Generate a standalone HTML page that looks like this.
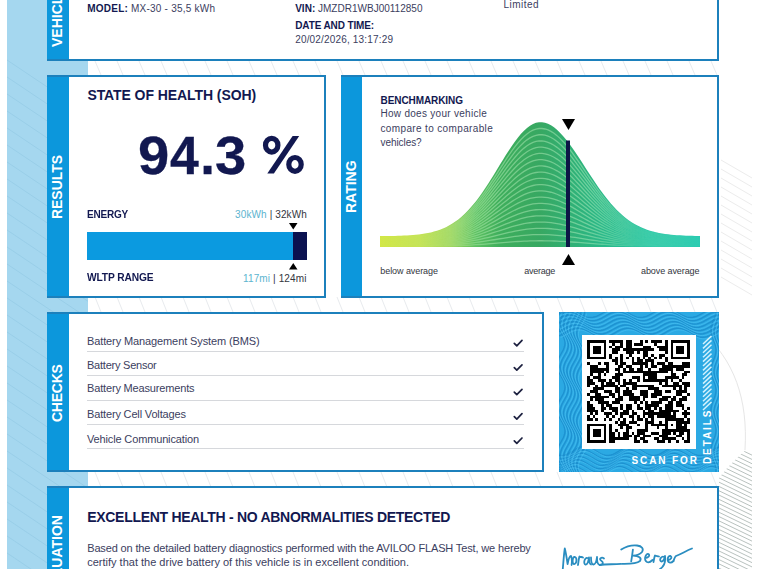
<!DOCTYPE html>
<html><head><meta charset="utf-8">
<style>
*{margin:0;padding:0;box-sizing:border-box}
html,body{width:759px;height:569px;overflow:hidden;background:#fff}
body{position:relative;font-family:"Liberation Sans",sans-serif;color:#121850}
.abs{position:absolute}
.stripe{position:absolute;left:7px;top:0;width:81px;height:569px;background:#a5d7ef}
.card{position:absolute;background:#fff;border:2px solid #1c80bc}
.bar{position:absolute;background:#0c97dc;border-top:2px solid #1c80bc;border-bottom:2px solid #1c80bc}
.vt{position:absolute;color:#fff;font-weight:bold;font-size:14px;white-space:nowrap;transform:rotate(-90deg);transform-origin:0 0;letter-spacing:0.3px;line-height:1}
.t{position:absolute;white-space:nowrap;line-height:1}
.g{position:absolute;top:128.6px;font-size:53px;font-weight:bold;line-height:1;color:#121850;transform-origin:0 0;-webkit-text-stroke:0.3px #121850}
.rule{position:absolute;left:87px;width:437px;height:1px;background:#d6d8dc}
</style></head><body>
<div class="stripe"></div>
<svg class="abs" style="left:0;top:0" width="759" height="569" stroke-width="1"><path d="M721,160 L752,178" stroke="#ececec"/><path d="M721,169 L752,187" stroke="#ececec"/><path d="M721,178 L752,196" stroke="#ececec"/><path d="M721,187 L752,205" stroke="#ececec"/><path d="M721,196 L752,214" stroke="#ececec"/><path d="M721,205 L752,223" stroke="#ececec"/><path d="M721,214 L752,232" stroke="#ececec"/><path d="M721,223 L752,241" stroke="#ececec"/><path d="M721,232 L752,250" stroke="#ececec"/><path d="M721,241 L752,259" stroke="#ececec"/><path d="M721,250 L752,268" stroke="#ececec"/><path d="M721,259 L752,277" stroke="#ececec"/><path d="M721,268 L752,286" stroke="#ececec"/><path d="M721,277 L752,295" stroke="#ececec"/><path id="gaplines" d="M95,61 L101,75 M117,61 L123,75 M139,61 L145,75 M161,61 L167,75 M183,61 L189,75 M205,61 L211,75 M227,61 L233,75 M249,61 L255,75 M271,61 L277,75 M293,61 L299,75 M315,61 L321,75 M337,61 L343,75 M359,61 L365,75 M381,61 L387,75 M403,61 L409,75 M425,61 L431,75 M447,61 L453,75 M469,61 L475,75 M491,61 L497,75 M513,61 L519,75 M535,61 L541,75 M557,61 L563,75 M579,61 L585,75 M601,61 L607,75 M623,61 L629,75 M645,61 L651,75 M667,61 L673,75 M689,61 L695,75 M711,61 L717,75 M95,297 L101,312 M117,297 L123,312 M139,297 L145,312 M161,297 L167,312 M183,297 L189,312 M205,297 L211,312 M227,297 L233,312 M249,297 L255,312 M271,297 L277,312 M293,297 L299,312 M315,297 L321,312 M337,297 L343,312 M359,297 L365,312 M381,297 L387,312 M403,297 L409,312 M425,297 L431,312 M447,297 L453,312 M469,297 L475,312 M491,297 L497,312 M513,297 L519,312 M535,297 L541,312 M557,297 L563,312 M579,297 L585,312 M601,297 L607,312 M623,297 L629,312 M645,297 L651,312 M667,297 L673,312 M689,297 L695,312 M711,297 L717,312 M95,472 L101,487 M117,472 L123,487 M139,472 L145,487 M161,472 L167,487 M183,472 L189,487 M205,472 L211,487 M227,472 L233,487 M249,472 L255,487 M271,472 L277,487 M293,472 L299,487 M315,472 L321,487 M337,472 L343,487 M359,472 L365,487 M381,472 L387,487 M403,472 L409,487 M425,472 L431,487 M447,472 L453,487 M469,472 L475,487 M491,472 L497,487 M513,472 L519,487 M535,472 L541,487 M557,472 L563,487 M579,472 L585,487 M601,472 L607,487 M623,472 L629,487 M645,472 L651,487 M667,472 L673,487 M689,472 L695,487 M711,472 L717,487" stroke="#e8ebee" stroke-width="1" fill="none"/><path d="M700,330 C735,360 748,400 745,450" stroke="#e6e6e6" fill="none"/><clipPath id="hc"><path d="M752,446 C742,452 728,466 719,478 L719,569 L752,569 Z"/></clipPath><path clip-path="url(#hc)" d="M700,430.0 L760,459.0 M700,434.3 L760,463.3 M700,438.6 L760,467.6 M700,442.9 L760,471.9 M700,447.2 L760,476.2 M700,451.5 L760,480.5 M700,455.8 L760,484.8 M700,460.1 L760,489.1 M700,464.4 L760,493.4 M700,468.7 L760,497.7 M700,473.0 L760,502.0 M700,477.3 L760,506.3 M700,481.6 L760,510.6 M700,485.9 L760,514.9 M700,490.2 L760,519.2 M700,494.5 L760,523.5 M700,498.8 L760,527.8 M700,503.1 L760,532.1 M700,507.4 L760,536.4 M700,511.7 L760,540.7 M700,516.0 L760,545.0 M700,520.3 L760,549.3 M700,524.6 L760,553.6 M700,528.9 L760,557.9 M700,533.2 L760,562.2 M700,537.5 L760,566.5 M700,541.8 L760,570.8 M700,546.1 L760,575.1 M700,550.4 L760,579.4 M700,554.7 L760,583.7 M700,559.0 L760,588.0 M700,563.3 L760,592.3 M700,567.6 L760,596.6 M700,571.9 L760,600.9 M700,576.2 L760,605.2 M700,580.5 L760,609.5 M700,584.8 L760,613.8 M700,589.1 L760,618.1 M700,593.4 L760,622.4 M700,597.7 L760,626.7" stroke="#b9c2bf" stroke-width="1" fill="none"/><path d="M7,60 L88,114.3 M7,77 L88,131.3 M7,94 L88,148.3 M7,111 L88,165.3 M7,128 L88,182.3 M7,145 L88,199.3 M7,162 L88,216.3 M7,179 L88,233.3 M7,196 L88,250.3 M7,213 L88,267.3 M7,230 L88,284.3 M7,247 L88,301.3 M7,264 L88,318.3 M7,281 L88,335.3 M7,298 L88,352.3 M7,315 L88,369.3 M7,332 L88,386.3 M7,349 L88,403.3 M7,366 L88,420.3 M7,383 L88,437.3 M7,400 L88,454.3 M7,417 L88,471.3 M7,434 L88,488.3 M7,451 L88,505.3 M7,468 L88,522.3 M7,485 L88,539.3 M7,502 L88,556.3 M7,519 L88,573.3 M7,536 L88,590.3 M7,553 L88,607.3" stroke="#95cce6" stroke-width="0.8" fill="none"/></svg>


<!-- vehicle card -->
<div class="card" style="left:47px;top:-20px;width:672px;height:81px"></div>
<div class="bar" style="left:47px;top:-20px;width:22px;height:81px"></div>
<div class="vt" style="left:49.5px;top:47px;letter-spacing:0px">VEHICLE DATA</div>

<!-- results card -->
<div class="card" style="left:47px;top:75px;width:279px;height:223px"></div>
<div class="bar" style="left:47px;top:75px;width:22px;height:223px"></div>
<div class="vt" style="left:49.7px;top:218.5px;letter-spacing:-0.05px">RESULTS</div>
<div class="abs" style="left:87px;top:232px;width:206px;height:28px;background:#0b9ae0"></div>
<div class="abs" style="left:293px;top:232px;width:14px;height:28px;background:#0b1250"></div>
<svg class="abs" style="left:0;top:0" width="759" height="569">
<path d="M289,223 L297.5,223 L293.25,229.5 Z" fill="#000"/>
<path d="M289,269.5 L297.5,269.5 L293.25,263 Z" fill="#000"/>
</svg>

<div class="g" style="left:138.1px;transform:scaleX(1.06)">9</div>
<div class="g" style="left:170.4px;transform:scaleX(0.977)">4</div>
<div class="g" style="left:200.3px">.</div>
<div class="g" style="left:214.6px;transform:scaleX(1.06)">3</div>
<svg class="abs" style="left:0;top:0" width="759" height="569">
<g fill="none" stroke="#121850" stroke-width="5.2">
<ellipse cx="271.7" cy="145.2" rx="6.2" ry="6.9"/>
<ellipse cx="295" cy="164.4" rx="6.2" ry="6.9"/>
</g>
<path d="M292.6,135.9 L299.2,135.9 L273.9,173.6 L267.3,173.6 Z" fill="#121850"/>
</svg>

<!-- rating card -->
<div class="card" style="left:341px;top:75px;width:378px;height:223px"></div>
<div class="bar" style="left:341px;top:75px;width:21px;height:223px"></div>
<div class="vt" style="left:343.8px;top:212.9px;letter-spacing:0px">RATING</div>
<svg class="abs" style="left:0;top:0" width="759" height="569">
<defs>
<linearGradient id="bg" x1="380" y1="0" x2="700" y2="0" gradientUnits="userSpaceOnUse">
<stop offset="0" stop-color="#d3e63c"/>
<stop offset="0.125" stop-color="#c4e042"/>
<stop offset="0.22" stop-color="#9ed455"/>
<stop offset="0.30" stop-color="#5cc060"/>
<stop offset="0.375" stop-color="#3eae5c"/>
<stop offset="0.5" stop-color="#37a862"/>
<stop offset="0.69" stop-color="#2ab888"/>
<stop offset="0.84" stop-color="#20c4a4"/>
<stop offset="1" stop-color="#1ec8b0"/>
</linearGradient>
<linearGradient id="lm" x1="380" y1="0" x2="700" y2="0" gradientUnits="userSpaceOnUse">
<stop offset="0" stop-color="#fff" stop-opacity="0.12"/>
<stop offset="0.2" stop-color="#fff" stop-opacity="0.35"/>
<stop offset="0.35" stop-color="#fff" stop-opacity="1"/>
<stop offset="0.65" stop-color="#fff" stop-opacity="1"/>
<stop offset="0.8" stop-color="#fff" stop-opacity="0.35"/>
<stop offset="1" stop-color="#fff" stop-opacity="0.12"/>
</linearGradient>
<mask id="mk" maskUnits="userSpaceOnUse" x="370" y="100" width="340" height="160"><rect x="370" y="100" width="340" height="160" fill="url(#lm)"/></mask>
<path id="bc" d="M380,236.12 L383,236.10 L386,236.07 L389,236.03 L392,235.98 L395,235.92 L398,235.84 L401,235.74 L404,235.62 L407,235.47 L410,235.29 L413,235.06 L416,234.79 L419,234.46 L422,234.07 L425,233.60 L428,233.05 L431,232.39 L434,231.62 L437,230.73 L440,229.69 L443,228.50 L446,227.13 L449,225.58 L452,223.82 L455,221.84 L458,219.64 L461,217.19 L464,214.50 L467,211.55 L470,208.33 L473,204.86 L476,201.14 L479,197.18 L482,192.99 L485,188.59 L488,184.01 L491,179.28 L494,174.44 L497,169.52 L500,164.59 L503,159.68 L506,154.84 L509,150.15 L512,145.64 L515,141.39 L518,137.44 L521,133.85 L524,130.67 L527,127.94 L530,125.71 L533,124.00 L536,122.85 L539,122.27 L542,122.26 L545,122.78 L548,123.81 L551,125.33 L554,127.33 L557,129.77 L560,132.64 L563,135.88 L566,139.46 L569,143.34 L572,147.46 L575,151.79 L578,156.27 L581,160.86 L584,165.50 L587,170.16 L590,174.79 L593,179.36 L596,183.82 L599,188.16 L602,192.33 L605,196.32 L608,200.12 L611,203.70 L614,207.06 L617,210.19 L620,213.09 L623,215.76 L626,218.20 L629,220.42 L632,222.43 L635,224.24 L638,225.86 L641,227.30 L644,228.58 L647,229.70 L650,230.68 L653,231.53 L656,232.27 L659,232.91 L662,233.46 L665,233.92 L668,234.32 L671,234.65 L674,234.93 L677,235.17 L680,235.36 L683,235.52 L686,235.66 L689,235.76 L692,235.85 L695,235.92 L698,235.98 L700,236.01" fill="none" stroke="#c8f8c8" stroke-opacity="0.42" stroke-width="1.3" vector-effect="non-scaling-stroke"/>
</defs>
<path d="M380,247 L380,236.12 L383,236.10 L386,236.07 L389,236.03 L392,235.98 L395,235.92 L398,235.84 L401,235.74 L404,235.62 L407,235.47 L410,235.29 L413,235.06 L416,234.79 L419,234.46 L422,234.07 L425,233.60 L428,233.05 L431,232.39 L434,231.62 L437,230.73 L440,229.69 L443,228.50 L446,227.13 L449,225.58 L452,223.82 L455,221.84 L458,219.64 L461,217.19 L464,214.50 L467,211.55 L470,208.33 L473,204.86 L476,201.14 L479,197.18 L482,192.99 L485,188.59 L488,184.01 L491,179.28 L494,174.44 L497,169.52 L500,164.59 L503,159.68 L506,154.84 L509,150.15 L512,145.64 L515,141.39 L518,137.44 L521,133.85 L524,130.67 L527,127.94 L530,125.71 L533,124.00 L536,122.85 L539,122.27 L542,122.26 L545,122.78 L548,123.81 L551,125.33 L554,127.33 L557,129.77 L560,132.64 L563,135.88 L566,139.46 L569,143.34 L572,147.46 L575,151.79 L578,156.27 L581,160.86 L584,165.50 L587,170.16 L590,174.79 L593,179.36 L596,183.82 L599,188.16 L602,192.33 L605,196.32 L608,200.12 L611,203.70 L614,207.06 L617,210.19 L620,213.09 L623,215.76 L626,218.20 L629,220.42 L632,222.43 L635,224.24 L638,225.86 L641,227.30 L644,228.58 L647,229.70 L650,230.68 L653,231.53 L656,232.27 L659,232.91 L662,233.46 L665,233.92 L668,234.32 L671,234.65 L674,234.93 L677,235.17 L680,235.36 L683,235.52 L686,235.66 L689,235.76 L692,235.85 L695,235.92 L698,235.98 L700,236.01 L700,247 Z" fill="url(#bg)"/>
<g mask="url(#mk)"><use href="#bc" transform="translate(0,247) scale(1,0.0500) translate(0,-247)"/><use href="#bc" transform="translate(0,247) scale(1,0.1000) translate(0,-247)"/><use href="#bc" transform="translate(0,247) scale(1,0.1500) translate(0,-247)"/><use href="#bc" transform="translate(0,247) scale(1,0.2000) translate(0,-247)"/><use href="#bc" transform="translate(0,247) scale(1,0.2500) translate(0,-247)"/><use href="#bc" transform="translate(0,247) scale(1,0.3000) translate(0,-247)"/><use href="#bc" transform="translate(0,247) scale(1,0.3500) translate(0,-247)"/><use href="#bc" transform="translate(0,247) scale(1,0.4000) translate(0,-247)"/><use href="#bc" transform="translate(0,247) scale(1,0.4500) translate(0,-247)"/><use href="#bc" transform="translate(0,247) scale(1,0.5000) translate(0,-247)"/><use href="#bc" transform="translate(0,247) scale(1,0.5500) translate(0,-247)"/><use href="#bc" transform="translate(0,247) scale(1,0.6000) translate(0,-247)"/><use href="#bc" transform="translate(0,247) scale(1,0.6500) translate(0,-247)"/><use href="#bc" transform="translate(0,247) scale(1,0.7000) translate(0,-247)"/><use href="#bc" transform="translate(0,247) scale(1,0.7500) translate(0,-247)"/><use href="#bc" transform="translate(0,247) scale(1,0.8000) translate(0,-247)"/><use href="#bc" transform="translate(0,247) scale(1,0.8500) translate(0,-247)"/><use href="#bc" transform="translate(0,247) scale(1,0.9000) translate(0,-247)"/><use href="#bc" transform="translate(0,247) scale(1,0.9500) translate(0,-247)"/></g>
<rect x="566" y="140.5" width="4" height="106.5" fill="#0d1646"/>
<path d="M562,119 L575,119 L568.5,130 Z" fill="#000"/>
<path d="M562,265 L575,265 L568.5,254 Z" fill="#000"/>
</svg>

<!-- checks card -->
<div class="card" style="left:47px;top:312px;width:497px;height:160px"></div>
<div class="bar" style="left:47px;top:312px;width:22px;height:160px"></div>
<div class="vt" style="left:49.7px;top:421.9px;letter-spacing:-0.25px">CHECKS</div>
<div class="rule" style="top:351px"></div>
<div class="rule" style="top:375px"></div>
<div class="rule" style="top:400px"></div>
<div class="rule" style="top:424px"></div>
<div class="rule" style="top:448px"></div>
<svg class="abs" style="left:0;top:0" width="759" height="569">
<g fill="none" stroke="#1d2140" stroke-width="1.7" stroke-linecap="round" stroke-linejoin="round"><path d="M514.3,343.3 L516.8,345.8 L522,340.4"/><path d="M514.3,367.7 L516.8,370.2 L522,364.8"/><path d="M514.3,392.2 L516.8,394.7 L522,389.3"/><path d="M514.3,416.6 L516.8,419.1 L522,413.7"/><path d="M514.3,440.9 L516.8,443.4 L522,438.0"/></g>
</svg>

<!-- QR panel -->
<svg class="abs" style="left:0;top:0" width="759" height="569">
<defs><clipPath id="pc"><rect x="559" y="312" width="160" height="160"/></clipPath></defs>
<rect x="559" y="312" width="160" height="160" fill="#2ba9e3"/>
<g clip-path="url(#pc)" fill="none" stroke="#1a8ccc" stroke-width="1.4" stroke-opacity="0.8"><path d="M559,309.9 L561,309.2 L563,308.7 L565,308.5 L567,308.6 L569,308.9 L571,309.5 L573,310.4 L575,311.3 L577,312.4 L579,313.6 L581,314.7 L583,315.6 L585,316.5 L587,317.1 L589,317.4 L591,317.5 L593,317.3 L595,316.8 L597,316.1 L599,315.2 L601,314.1 L603,313.0 L605,311.9 L607,310.8 L609,309.9 L611,309.2 L613,308.7 L615,308.5 L617,308.6 L619,308.9 L621,309.5 L623,310.4 L625,311.3 L627,312.4 L629,313.6 L631,314.7 L633,315.6 L635,316.5 L637,317.1 L639,317.4 L641,317.5 L643,317.3 L645,316.8 L647,316.1 L649,315.2 L651,314.1 L653,313.0 L655,311.9 L657,310.8 L659,309.9 L661,309.2 L663,308.7 L665,308.5 L667,308.6 L669,308.9 L671,309.5 L673,310.4 L675,311.3 L677,312.4 L679,313.6 L681,314.7 L683,315.6 L685,316.5 L687,317.1 L689,317.4 L691,317.5 L693,317.3 L695,316.8 L697,316.1 L699,315.2 L701,314.1 L703,313.0 L705,311.9 L707,310.8 L709,309.9 L711,309.2 L713,308.7 L715,308.5 L717,308.6 L719,308.9"/><path d="M559,314.1 L561,313.2 L563,312.5 L565,312.0 L567,311.8 L569,311.9 L571,312.2 L573,312.8 L575,313.7 L577,314.6 L579,315.7 L581,316.9 L583,318.0 L585,318.9 L587,319.8 L589,320.4 L591,320.7 L593,320.8 L595,320.6 L597,320.1 L599,319.4 L601,318.5 L603,317.4 L605,316.3 L607,315.2 L609,314.1 L611,313.2 L613,312.5 L615,312.0 L617,311.8 L619,311.9 L621,312.2 L623,312.8 L625,313.7 L627,314.6 L629,315.7 L631,316.9 L633,318.0 L635,318.9 L637,319.8 L639,320.4 L641,320.7 L643,320.8 L645,320.6 L647,320.1 L649,319.4 L651,318.5 L653,317.4 L655,316.3 L657,315.2 L659,314.1 L661,313.2 L663,312.5 L665,312.0 L667,311.8 L669,311.9 L671,312.2 L673,312.8 L675,313.7 L677,314.6 L679,315.7 L681,316.9 L683,318.0 L685,318.9 L687,319.8 L689,320.4 L691,320.7 L693,320.8 L695,320.6 L697,320.1 L699,319.4 L701,318.5 L703,317.4 L705,316.3 L707,315.2 L709,314.1 L711,313.2 L713,312.5 L715,312.0 L717,311.8 L719,311.9"/><path d="M559,318.5 L561,317.4 L563,316.5 L565,315.8 L567,315.3 L569,315.1 L571,315.2 L573,315.5 L575,316.1 L577,317.0 L579,317.9 L581,319.0 L583,320.2 L585,321.3 L587,322.2 L589,323.1 L591,323.7 L593,324.0 L595,324.1 L597,323.9 L599,323.4 L601,322.7 L603,321.8 L605,320.7 L607,319.6 L609,318.5 L611,317.4 L613,316.5 L615,315.8 L617,315.3 L619,315.1 L621,315.2 L623,315.5 L625,316.1 L627,317.0 L629,317.9 L631,319.0 L633,320.2 L635,321.3 L637,322.2 L639,323.1 L641,323.7 L643,324.0 L645,324.1 L647,323.9 L649,323.4 L651,322.7 L653,321.8 L655,320.7 L657,319.6 L659,318.5 L661,317.4 L663,316.5 L665,315.8 L667,315.3 L669,315.1 L671,315.2 L673,315.5 L675,316.1 L677,317.0 L679,317.9 L681,319.0 L683,320.2 L685,321.3 L687,322.2 L689,323.1 L691,323.7 L693,324.0 L695,324.1 L697,323.9 L699,323.4 L701,322.7 L703,321.8 L705,320.7 L707,319.6 L709,318.5 L711,317.4 L713,316.5 L715,315.8 L717,315.3 L719,315.1"/><path d="M559,322.9 L561,321.8 L563,320.7 L565,319.8 L567,319.1 L569,318.6 L571,318.4 L573,318.5 L575,318.8 L577,319.4 L579,320.3 L581,321.2 L583,322.3 L585,323.5 L587,324.6 L589,325.5 L591,326.4 L593,327.0 L595,327.3 L597,327.4 L599,327.2 L601,326.7 L603,326.0 L605,325.1 L607,324.0 L609,322.9 L611,321.8 L613,320.7 L615,319.8 L617,319.1 L619,318.6 L621,318.4 L623,318.5 L625,318.8 L627,319.4 L629,320.3 L631,321.2 L633,322.3 L635,323.5 L637,324.6 L639,325.5 L641,326.4 L643,327.0 L645,327.3 L647,327.4 L649,327.2 L651,326.7 L653,326.0 L655,325.1 L657,324.0 L659,322.9 L661,321.8 L663,320.7 L665,319.8 L667,319.1 L669,318.6 L671,318.4 L673,318.5 L675,318.8 L677,319.4 L679,320.3 L681,321.2 L683,322.3 L685,323.5 L687,324.6 L689,325.5 L691,326.4 L693,327.0 L695,327.3 L697,327.4 L699,327.2 L701,326.7 L703,326.0 L705,325.1 L707,324.0 L709,322.9 L711,321.8 L713,320.7 L715,319.8 L717,319.1 L719,318.6"/><path d="M559,327.3 L561,326.2 L563,325.1 L565,324.0 L567,323.1 L569,322.4 L571,321.9 L573,321.7 L575,321.8 L577,322.1 L579,322.7 L581,323.6 L583,324.5 L585,325.6 L587,326.8 L589,327.9 L591,328.8 L593,329.7 L595,330.3 L597,330.6 L599,330.7 L601,330.5 L603,330.0 L605,329.3 L607,328.4 L609,327.3 L611,326.2 L613,325.1 L615,324.0 L617,323.1 L619,322.4 L621,321.9 L623,321.7 L625,321.8 L627,322.1 L629,322.7 L631,323.6 L633,324.5 L635,325.6 L637,326.8 L639,327.9 L641,328.8 L643,329.7 L645,330.3 L647,330.6 L649,330.7 L651,330.5 L653,330.0 L655,329.3 L657,328.4 L659,327.3 L661,326.2 L663,325.1 L665,324.0 L667,323.1 L669,322.4 L671,321.9 L673,321.7 L675,321.8 L677,322.1 L679,322.7 L681,323.6 L683,324.5 L685,325.6 L687,326.8 L689,327.9 L691,328.8 L693,329.7 L695,330.3 L697,330.6 L699,330.7 L701,330.5 L703,330.0 L705,329.3 L707,328.4 L709,327.3 L711,326.2 L713,325.1 L715,324.0 L717,323.1 L719,322.4"/><path d="M559,331.7 L561,330.6 L563,329.5 L565,328.4 L567,327.3 L569,326.4 L571,325.7 L573,325.2 L575,325.0 L577,325.1 L579,325.4 L581,326.0 L583,326.9 L585,327.8 L587,328.9 L589,330.1 L591,331.2 L593,332.1 L595,333.0 L597,333.6 L599,333.9 L601,334.0 L603,333.8 L605,333.3 L607,332.6 L609,331.7 L611,330.6 L613,329.5 L615,328.4 L617,327.3 L619,326.4 L621,325.7 L623,325.2 L625,325.0 L627,325.1 L629,325.4 L631,326.0 L633,326.9 L635,327.8 L637,328.9 L639,330.1 L641,331.2 L643,332.1 L645,333.0 L647,333.6 L649,333.9 L651,334.0 L653,333.8 L655,333.3 L657,332.6 L659,331.7 L661,330.6 L663,329.5 L665,328.4 L667,327.3 L669,326.4 L671,325.7 L673,325.2 L675,325.0 L677,325.1 L679,325.4 L681,326.0 L683,326.9 L685,327.8 L687,328.9 L689,330.1 L691,331.2 L693,332.1 L695,333.0 L697,333.6 L699,333.9 L701,334.0 L703,333.8 L705,333.3 L707,332.6 L709,331.7 L711,330.6 L713,329.5 L715,328.4 L717,327.3 L719,326.4"/><path d="M559,335.9 L561,335.0 L563,333.9 L565,332.8 L567,331.7 L569,330.6 L571,329.7 L573,329.0 L575,328.5 L577,328.3 L579,328.4 L581,328.7 L583,329.3 L585,330.2 L587,331.1 L589,332.2 L591,333.4 L593,334.5 L595,335.4 L597,336.3 L599,336.9 L601,337.2 L603,337.3 L605,337.1 L607,336.6 L609,335.9 L611,335.0 L613,333.9 L615,332.8 L617,331.7 L619,330.6 L621,329.7 L623,329.0 L625,328.5 L627,328.3 L629,328.4 L631,328.7 L633,329.3 L635,330.2 L637,331.1 L639,332.2 L641,333.4 L643,334.5 L645,335.4 L647,336.3 L649,336.9 L651,337.2 L653,337.3 L655,337.1 L657,336.6 L659,335.9 L661,335.0 L663,333.9 L665,332.8 L667,331.7 L669,330.6 L671,329.7 L673,329.0 L675,328.5 L677,328.3 L679,328.4 L681,328.7 L683,329.3 L685,330.2 L687,331.1 L689,332.2 L691,333.4 L693,334.5 L695,335.4 L697,336.3 L699,336.9 L701,337.2 L703,337.3 L705,337.1 L707,336.6 L709,335.9 L711,335.0 L713,333.9 L715,332.8 L717,331.7 L719,330.6"/><path d="M559,455.2 L561,455.5 L563,455.4 L565,455.0 L567,454.3 L569,453.3 L571,452.2 L573,451.0 L575,449.8 L577,448.7 L579,447.7 L581,447.0 L583,446.6 L585,446.5 L587,446.8 L589,447.3 L591,448.2 L593,449.2 L595,450.4 L597,451.6 L599,452.8 L601,453.8 L603,454.7 L605,455.2 L607,455.5 L609,455.4 L611,455.0 L613,454.3 L615,453.3 L617,452.2 L619,451.0 L621,449.8 L623,448.7 L625,447.7 L627,447.0 L629,446.6 L631,446.5 L633,446.8 L635,447.3 L637,448.2 L639,449.2 L641,450.4 L643,451.6 L645,452.8 L647,453.8 L649,454.7 L651,455.2 L653,455.5 L655,455.4 L657,455.0 L659,454.3 L661,453.3 L663,452.2 L665,451.0 L667,449.8 L669,448.7 L671,447.7 L673,447.0 L675,446.6 L677,446.5 L679,446.8 L681,447.3 L683,448.2 L685,449.2 L687,450.4 L689,451.6 L691,452.8 L693,453.8 L695,454.7 L697,455.2 L699,455.5 L701,455.4 L703,455.0 L705,454.3 L707,453.3 L709,452.2 L711,451.0 L713,449.8 L715,448.7 L717,447.7 L719,447.0"/><path d="M559,458.8 L561,458.7 L563,458.3 L565,457.6 L567,456.6 L569,455.5 L571,454.3 L573,453.1 L575,452.0 L577,451.0 L579,450.3 L581,449.9 L583,449.8 L585,450.1 L587,450.6 L589,451.5 L591,452.5 L593,453.7 L595,454.9 L597,456.1 L599,457.1 L601,458.0 L603,458.5 L605,458.8 L607,458.7 L609,458.3 L611,457.6 L613,456.6 L615,455.5 L617,454.3 L619,453.1 L621,452.0 L623,451.0 L625,450.3 L627,449.9 L629,449.8 L631,450.1 L633,450.6 L635,451.5 L637,452.5 L639,453.7 L641,454.9 L643,456.1 L645,457.1 L647,458.0 L649,458.5 L651,458.8 L653,458.7 L655,458.3 L657,457.6 L659,456.6 L661,455.5 L663,454.3 L665,453.1 L667,452.0 L669,451.0 L671,450.3 L673,449.9 L675,449.8 L677,450.1 L679,450.6 L681,451.5 L683,452.5 L685,453.7 L687,454.9 L689,456.1 L691,457.1 L693,458.0 L695,458.5 L697,458.8 L699,458.7 L701,458.3 L703,457.6 L705,456.6 L707,455.5 L709,454.3 L711,453.1 L713,452.0 L715,451.0 L717,450.3 L719,449.9"/><path d="M559,462.0 L561,461.6 L563,460.9 L565,459.9 L567,458.8 L569,457.6 L571,456.4 L573,455.3 L575,454.3 L577,453.6 L579,453.2 L581,453.1 L583,453.4 L585,453.9 L587,454.8 L589,455.8 L591,457.0 L593,458.2 L595,459.4 L597,460.4 L599,461.3 L601,461.8 L603,462.1 L605,462.0 L607,461.6 L609,460.9 L611,459.9 L613,458.8 L615,457.6 L617,456.4 L619,455.3 L621,454.3 L623,453.6 L625,453.2 L627,453.1 L629,453.4 L631,453.9 L633,454.8 L635,455.8 L637,457.0 L639,458.2 L641,459.4 L643,460.4 L645,461.3 L647,461.8 L649,462.1 L651,462.0 L653,461.6 L655,460.9 L657,459.9 L659,458.8 L661,457.6 L663,456.4 L665,455.3 L667,454.3 L669,453.6 L671,453.2 L673,453.1 L675,453.4 L677,453.9 L679,454.8 L681,455.8 L683,457.0 L685,458.2 L687,459.4 L689,460.4 L691,461.3 L693,461.8 L695,462.1 L697,462.0 L699,461.6 L701,460.9 L703,459.9 L705,458.8 L707,457.6 L709,456.4 L711,455.3 L713,454.3 L715,453.6 L717,453.2 L719,453.1"/><path d="M559,464.9 L561,464.2 L563,463.2 L565,462.1 L567,460.9 L569,459.7 L571,458.6 L573,457.6 L575,456.9 L577,456.5 L579,456.4 L581,456.7 L583,457.2 L585,458.1 L587,459.1 L589,460.3 L591,461.5 L593,462.7 L595,463.7 L597,464.6 L599,465.1 L601,465.4 L603,465.3 L605,464.9 L607,464.2 L609,463.2 L611,462.1 L613,460.9 L615,459.7 L617,458.6 L619,457.6 L621,456.9 L623,456.5 L625,456.4 L627,456.7 L629,457.2 L631,458.1 L633,459.1 L635,460.3 L637,461.5 L639,462.7 L641,463.7 L643,464.6 L645,465.1 L647,465.4 L649,465.3 L651,464.9 L653,464.2 L655,463.2 L657,462.1 L659,460.9 L661,459.7 L663,458.6 L665,457.6 L667,456.9 L669,456.5 L671,456.4 L673,456.7 L675,457.2 L677,458.1 L679,459.1 L681,460.3 L683,461.5 L685,462.7 L687,463.7 L689,464.6 L691,465.1 L693,465.4 L695,465.3 L697,464.9 L699,464.2 L701,463.2 L703,462.1 L705,460.9 L707,459.7 L709,458.6 L711,457.6 L713,456.9 L715,456.5 L717,456.4 L719,456.7"/><path d="M559,467.5 L561,466.5 L563,465.4 L565,464.2 L567,463.0 L569,461.9 L571,460.9 L573,460.2 L575,459.8 L577,459.7 L579,460.0 L581,460.5 L583,461.4 L585,462.4 L587,463.6 L589,464.8 L591,466.0 L593,467.0 L595,467.9 L597,468.4 L599,468.7 L601,468.6 L603,468.2 L605,467.5 L607,466.5 L609,465.4 L611,464.2 L613,463.0 L615,461.9 L617,460.9 L619,460.2 L621,459.8 L623,459.7 L625,460.0 L627,460.5 L629,461.4 L631,462.4 L633,463.6 L635,464.8 L637,466.0 L639,467.0 L641,467.9 L643,468.4 L645,468.7 L647,468.6 L649,468.2 L651,467.5 L653,466.5 L655,465.4 L657,464.2 L659,463.0 L661,461.9 L663,460.9 L665,460.2 L667,459.8 L669,459.7 L671,460.0 L673,460.5 L675,461.4 L677,462.4 L679,463.6 L681,464.8 L683,466.0 L685,467.0 L687,467.9 L689,468.4 L691,468.7 L693,468.6 L695,468.2 L697,467.5 L699,466.5 L701,465.4 L703,464.2 L705,463.0 L707,461.9 L709,460.9 L711,460.2 L713,459.8 L715,459.7 L717,460.0 L719,460.5"/><path d="M559,469.8 L561,468.7 L563,467.5 L565,466.3 L567,465.2 L569,464.2 L571,463.5 L573,463.1 L575,463.0 L577,463.3 L579,463.8 L581,464.7 L583,465.7 L585,466.9 L587,468.1 L589,469.3 L591,470.3 L593,471.2 L595,471.7 L597,472.0 L599,471.9 L601,471.5 L603,470.8 L605,469.8 L607,468.7 L609,467.5 L611,466.3 L613,465.2 L615,464.2 L617,463.5 L619,463.1 L621,463.0 L623,463.3 L625,463.8 L627,464.7 L629,465.7 L631,466.9 L633,468.1 L635,469.3 L637,470.3 L639,471.2 L641,471.7 L643,472.0 L645,471.9 L647,471.5 L649,470.8 L651,469.8 L653,468.7 L655,467.5 L657,466.3 L659,465.2 L661,464.2 L663,463.5 L665,463.1 L667,463.0 L669,463.3 L671,463.8 L673,464.7 L675,465.7 L677,466.9 L679,468.1 L681,469.3 L683,470.3 L685,471.2 L687,471.7 L689,472.0 L691,471.9 L693,471.5 L695,470.8 L697,469.8 L699,468.7 L701,467.5 L703,466.3 L705,465.2 L707,464.2 L709,463.5 L711,463.1 L713,463.0 L715,463.3 L717,463.8 L719,464.7"/><path d="M559,472.0 L561,470.8 L563,469.6 L565,468.5 L567,467.5 L569,466.8 L571,466.4 L573,466.3 L575,466.6 L577,467.1 L579,468.0 L581,469.0 L583,470.2 L585,471.4 L587,472.6 L589,473.6 L591,474.5 L593,475.0 L595,475.3 L597,475.2 L599,474.8 L601,474.1 L603,473.1 L605,472.0 L607,470.8 L609,469.6 L611,468.5 L613,467.5 L615,466.8 L617,466.4 L619,466.3 L621,466.6 L623,467.1 L625,468.0 L627,469.0 L629,470.2 L631,471.4 L633,472.6 L635,473.6 L637,474.5 L639,475.0 L641,475.3 L643,475.2 L645,474.8 L647,474.1 L649,473.1 L651,472.0 L653,470.8 L655,469.6 L657,468.5 L659,467.5 L661,466.8 L663,466.4 L665,466.3 L667,466.6 L669,467.1 L671,468.0 L673,469.0 L675,470.2 L677,471.4 L679,472.6 L681,473.6 L683,474.5 L685,475.0 L687,475.3 L689,475.2 L691,474.8 L693,474.1 L695,473.1 L697,472.0 L699,470.8 L701,469.6 L703,468.5 L705,467.5 L707,466.8 L709,466.4 L711,466.3 L713,466.6 L715,467.1 L717,468.0 L719,469.0"/><path d="M559.9,312 L558.8,314 L558.0,316 L557.4,318 L557.0,320 L557.0,322 L557.4,324 L558.0,326 L558.8,328 L559.9,330 L561.0,332 L562.1,334 L563.2,336 L564.0,338 L564.6,340 L565.0,342 L565.0,344 L564.6,346 L564.0,348 L563.2,350 L562.1,352 L561.0,354 L559.9,356 L558.8,358 L558.0,360 L557.4,362 L557.0,364 L557.0,366 L557.4,368 L558.0,370 L558.8,372 L559.9,374 L561.0,376 L562.1,378 L563.2,380 L564.0,382 L564.6,384 L565.0,386 L565.0,388 L564.6,390 L564.0,392 L563.2,394 L562.1,396 L561.0,398 L559.9,400 L558.8,402 L558.0,404 L557.4,406 L557.0,408 L557.0,410 L557.4,412 L558.0,414 L558.8,416 L559.9,418 L561.0,420 L562.1,422 L563.2,424 L564.0,426 L564.6,428 L565.0,430 L565.0,432 L564.6,434 L564.0,436 L563.2,438 L562.1,440 L561.0,442 L559.9,444 L558.8,446 L558.0,448 L557.4,450 L557.0,452 L557.0,454 L557.4,456 L558.0,458 L558.8,460 L559.9,462 L561.0,464 L562.1,466 L563.2,468 L564.0,470 L564.6,472"/><path d="M564.3,312 L563.2,314 L562.1,316 L561.3,318 L560.7,320 L560.3,322 L560.3,324 L560.7,326 L561.3,328 L562.1,330 L563.2,332 L564.3,334 L565.4,336 L566.5,338 L567.3,340 L567.9,342 L568.3,344 L568.3,346 L567.9,348 L567.3,350 L566.5,352 L565.4,354 L564.3,356 L563.2,358 L562.1,360 L561.3,362 L560.7,364 L560.3,366 L560.3,368 L560.7,370 L561.3,372 L562.1,374 L563.2,376 L564.3,378 L565.4,380 L566.5,382 L567.3,384 L567.9,386 L568.3,388 L568.3,390 L567.9,392 L567.3,394 L566.5,396 L565.4,398 L564.3,400 L563.2,402 L562.1,404 L561.3,406 L560.7,408 L560.3,410 L560.3,412 L560.7,414 L561.3,416 L562.1,418 L563.2,420 L564.3,422 L565.4,424 L566.5,426 L567.3,428 L567.9,430 L568.3,432 L568.3,434 L567.9,436 L567.3,438 L566.5,440 L565.4,442 L564.3,444 L563.2,446 L562.1,448 L561.3,450 L560.7,452 L560.3,454 L560.3,456 L560.7,458 L561.3,460 L562.1,462 L563.2,464 L564.3,466 L565.4,468 L566.5,470 L567.3,472"/><path d="M568.7,312 L567.6,314 L566.5,316 L565.4,318 L564.6,320 L564.0,322 L563.6,324 L563.6,326 L564.0,328 L564.6,330 L565.4,332 L566.5,334 L567.6,336 L568.7,338 L569.8,340 L570.6,342 L571.2,344 L571.6,346 L571.6,348 L571.2,350 L570.6,352 L569.8,354 L568.7,356 L567.6,358 L566.5,360 L565.4,362 L564.6,364 L564.0,366 L563.6,368 L563.6,370 L564.0,372 L564.6,374 L565.4,376 L566.5,378 L567.6,380 L568.7,382 L569.8,384 L570.6,386 L571.2,388 L571.6,390 L571.6,392 L571.2,394 L570.6,396 L569.8,398 L568.7,400 L567.6,402 L566.5,404 L565.4,406 L564.6,408 L564.0,410 L563.6,412 L563.6,414 L564.0,416 L564.6,418 L565.4,420 L566.5,422 L567.6,424 L568.7,426 L569.8,428 L570.6,430 L571.2,432 L571.6,434 L571.6,436 L571.2,438 L570.6,440 L569.8,442 L568.7,444 L567.6,446 L566.5,448 L565.4,450 L564.6,452 L564.0,454 L563.6,456 L563.6,458 L564.0,460 L564.6,462 L565.4,464 L566.5,466 L567.6,468 L568.7,470 L569.8,472"/><path d="M573.1,312 L572.0,314 L570.9,316 L569.8,318 L568.7,320 L567.9,322 L567.3,324 L566.9,326 L566.9,328 L567.3,330 L567.9,332 L568.7,334 L569.8,336 L570.9,338 L572.0,340 L573.1,342 L573.9,344 L574.5,346 L574.9,348 L574.9,350 L574.5,352 L573.9,354 L573.1,356 L572.0,358 L570.9,360 L569.8,362 L568.7,364 L567.9,366 L567.3,368 L566.9,370 L566.9,372 L567.3,374 L567.9,376 L568.7,378 L569.8,380 L570.9,382 L572.0,384 L573.1,386 L573.9,388 L574.5,390 L574.9,392 L574.9,394 L574.5,396 L573.9,398 L573.1,400 L572.0,402 L570.9,404 L569.8,406 L568.7,408 L567.9,410 L567.3,412 L566.9,414 L566.9,416 L567.3,418 L567.9,420 L568.7,422 L569.8,424 L570.9,426 L572.0,428 L573.1,430 L573.9,432 L574.5,434 L574.9,436 L574.9,438 L574.5,440 L573.9,442 L573.1,444 L572.0,446 L570.9,448 L569.8,450 L568.7,452 L567.9,454 L567.3,456 L566.9,458 L566.9,460 L567.3,462 L567.9,464 L568.7,466 L569.8,468 L570.9,470 L572.0,472"/><path d="M577.2,312 L576.4,314 L575.3,316 L574.2,318 L573.1,320 L572.0,322 L571.2,324 L570.6,326 L570.2,328 L570.2,330 L570.6,332 L571.2,334 L572.0,336 L573.1,338 L574.2,340 L575.3,342 L576.4,344 L577.2,346 L577.8,348 L578.2,350 L578.2,352 L577.8,354 L577.2,356 L576.4,358 L575.3,360 L574.2,362 L573.1,364 L572.0,366 L571.2,368 L570.6,370 L570.2,372 L570.2,374 L570.6,376 L571.2,378 L572.0,380 L573.1,382 L574.2,384 L575.3,386 L576.4,388 L577.2,390 L577.8,392 L578.2,394 L578.2,396 L577.8,398 L577.2,400 L576.4,402 L575.3,404 L574.2,406 L573.1,408 L572.0,410 L571.2,412 L570.6,414 L570.2,416 L570.2,418 L570.6,420 L571.2,422 L572.0,424 L573.1,426 L574.2,428 L575.3,430 L576.4,432 L577.2,434 L577.8,436 L578.2,438 L578.2,440 L577.8,442 L577.2,444 L576.4,446 L575.3,448 L574.2,450 L573.1,452 L572.0,454 L571.2,456 L570.6,458 L570.2,460 L570.2,462 L570.6,464 L571.2,466 L572.0,468 L573.1,470 L574.2,472"/><path d="M581.1,312 L580.5,314 L579.7,316 L578.6,318 L577.5,320 L576.4,322 L575.3,324 L574.5,326 L573.9,328 L573.5,330 L573.5,332 L573.9,334 L574.5,336 L575.3,338 L576.4,340 L577.5,342 L578.6,344 L579.7,346 L580.5,348 L581.1,350 L581.5,352 L581.5,354 L581.1,356 L580.5,358 L579.7,360 L578.6,362 L577.5,364 L576.4,366 L575.3,368 L574.5,370 L573.9,372 L573.5,374 L573.5,376 L573.9,378 L574.5,380 L575.3,382 L576.4,384 L577.5,386 L578.6,388 L579.7,390 L580.5,392 L581.1,394 L581.5,396 L581.5,398 L581.1,400 L580.5,402 L579.7,404 L578.6,406 L577.5,408 L576.4,410 L575.3,412 L574.5,414 L573.9,416 L573.5,418 L573.5,420 L573.9,422 L574.5,424 L575.3,426 L576.4,428 L577.5,430 L578.6,432 L579.7,434 L580.5,436 L581.1,438 L581.5,440 L581.5,442 L581.1,444 L580.5,446 L579.7,448 L578.6,450 L577.5,452 L576.4,454 L575.3,456 L574.5,458 L573.9,460 L573.5,462 L573.5,464 L573.9,466 L574.5,468 L575.3,470 L576.4,472"/><path d="M584.8,312 L584.4,314 L583.8,316 L583.0,318 L581.9,320 L580.8,322 L579.7,324 L578.6,326 L577.8,328 L577.2,330 L576.8,332 L576.8,334 L577.2,336 L577.8,338 L578.6,340 L579.7,342 L580.8,344 L581.9,346 L583.0,348 L583.8,350 L584.4,352 L584.8,354 L584.8,356 L584.4,358 L583.8,360 L583.0,362 L581.9,364 L580.8,366 L579.7,368 L578.6,370 L577.8,372 L577.2,374 L576.8,376 L576.8,378 L577.2,380 L577.8,382 L578.6,384 L579.7,386 L580.8,388 L581.9,390 L583.0,392 L583.8,394 L584.4,396 L584.8,398 L584.8,400 L584.4,402 L583.8,404 L583.0,406 L581.9,408 L580.8,410 L579.7,412 L578.6,414 L577.8,416 L577.2,418 L576.8,420 L576.8,422 L577.2,424 L577.8,426 L578.6,428 L579.7,430 L580.8,432 L581.9,434 L583.0,436 L583.8,438 L584.4,440 L584.8,442 L584.8,444 L584.4,446 L583.8,448 L583.0,450 L581.9,452 L580.8,454 L579.7,456 L578.6,458 L577.8,460 L577.2,462 L576.8,464 L576.8,466 L577.2,468 L577.8,470 L578.6,472"/><path d="M715.9,312 L715.5,314 L715.0,316 L714.3,318 L713.5,320 L712.7,322 L712.0,324 L711.5,326 L711.1,328 L711.0,330 L711.1,332 L711.5,334 L712.0,336 L712.7,338 L713.5,340 L714.3,342 L715.0,344 L715.5,346 L715.9,348 L716.0,350 L715.9,352 L715.5,354 L715.0,356 L714.3,358 L713.5,360 L712.7,362 L712.0,364 L711.5,366 L711.1,368 L711.0,370 L711.1,372 L711.5,374 L712.0,376 L712.7,378 L713.5,380 L714.3,382 L715.0,384 L715.5,386 L715.9,388 L716.0,390 L715.9,392 L715.5,394 L715.0,396 L714.3,398 L713.5,400 L712.7,402 L712.0,404 L711.5,406 L711.1,408 L711.0,410 L711.1,412 L711.5,414 L712.0,416 L712.7,418 L713.5,420 L714.3,422 L715.0,424 L715.5,426 L715.9,428 L716.0,430 L715.9,432 L715.5,434 L715.0,436 L714.3,438 L713.5,440 L712.7,442 L712.0,444 L711.5,446 L711.1,448 L711.0,450 L711.1,452 L711.5,454 L712.0,456 L712.7,458 L713.5,460 L714.3,462 L715.0,464 L715.5,466 L715.9,468 L716.0,470 L715.9,472"/><path d="M719.0,312 L718.8,314 L718.4,316 L717.8,318 L717.1,320 L716.3,322 L715.5,324 L714.9,326 L714.4,328 L714.1,330 L714.0,332 L714.2,334 L714.6,336 L715.2,338 L715.9,340 L716.7,342 L717.5,344 L718.1,346 L718.6,348 L718.9,350 L719.0,352 L718.8,354 L718.4,356 L717.8,358 L717.1,360 L716.3,362 L715.5,364 L714.9,366 L714.4,368 L714.1,370 L714.0,372 L714.2,374 L714.6,376 L715.2,378 L715.9,380 L716.7,382 L717.5,384 L718.1,386 L718.6,388 L718.9,390 L719.0,392 L718.8,394 L718.4,396 L717.8,398 L717.1,400 L716.3,402 L715.5,404 L714.9,406 L714.4,408 L714.1,410 L714.0,412 L714.2,414 L714.6,416 L715.2,418 L715.9,420 L716.7,422 L717.5,424 L718.1,426 L718.6,428 L718.9,430 L719.0,432 L718.8,434 L718.4,436 L717.8,438 L717.1,440 L716.3,442 L715.5,444 L714.9,446 L714.4,448 L714.1,450 L714.0,452 L714.2,454 L714.6,456 L715.2,458 L715.9,460 L716.7,462 L717.5,464 L718.1,466 L718.6,468 L718.9,470 L719.0,472"/><path d="M722.0,312 L722.0,314 L721.7,316 L721.3,318 L720.6,320 L719.9,322 L719.1,324 L718.4,326 L717.7,328 L717.3,330 L717.0,332 L717.0,334 L717.3,336 L717.7,338 L718.4,340 L719.1,342 L719.9,344 L720.6,346 L721.3,348 L721.7,350 L722.0,352 L722.0,354 L721.7,356 L721.3,358 L720.6,360 L719.9,362 L719.1,364 L718.4,366 L717.7,368 L717.3,370 L717.0,372 L717.0,374 L717.3,376 L717.7,378 L718.4,380 L719.1,382 L719.9,384 L720.6,386 L721.3,388 L721.7,390 L722.0,392 L722.0,394 L721.7,396 L721.3,398 L720.6,400 L719.9,402 L719.1,404 L718.4,406 L717.7,408 L717.3,410 L717.0,412 L717.0,414 L717.3,416 L717.7,418 L718.4,420 L719.1,422 L719.9,424 L720.6,426 L721.3,428 L721.7,430 L722.0,432 L722.0,434 L721.7,436 L721.3,438 L720.6,440 L719.9,442 L719.1,444 L718.4,446 L717.7,448 L717.3,450 L717.0,452 L717.0,454 L717.3,456 L717.7,458 L718.4,460 L719.1,462 L719.9,464 L720.6,466 L721.3,468 L721.7,470 L722.0,472"/></g><g clip-path="url(#pc)"><g fill="none" stroke="#52c6f6" stroke-width="0.9" stroke-opacity="0.6" transform="translate(1.6,1.6)"><path d="M559,309.9 L561,309.2 L563,308.7 L565,308.5 L567,308.6 L569,308.9 L571,309.5 L573,310.4 L575,311.3 L577,312.4 L579,313.6 L581,314.7 L583,315.6 L585,316.5 L587,317.1 L589,317.4 L591,317.5 L593,317.3 L595,316.8 L597,316.1 L599,315.2 L601,314.1 L603,313.0 L605,311.9 L607,310.8 L609,309.9 L611,309.2 L613,308.7 L615,308.5 L617,308.6 L619,308.9 L621,309.5 L623,310.4 L625,311.3 L627,312.4 L629,313.6 L631,314.7 L633,315.6 L635,316.5 L637,317.1 L639,317.4 L641,317.5 L643,317.3 L645,316.8 L647,316.1 L649,315.2 L651,314.1 L653,313.0 L655,311.9 L657,310.8 L659,309.9 L661,309.2 L663,308.7 L665,308.5 L667,308.6 L669,308.9 L671,309.5 L673,310.4 L675,311.3 L677,312.4 L679,313.6 L681,314.7 L683,315.6 L685,316.5 L687,317.1 L689,317.4 L691,317.5 L693,317.3 L695,316.8 L697,316.1 L699,315.2 L701,314.1 L703,313.0 L705,311.9 L707,310.8 L709,309.9 L711,309.2 L713,308.7 L715,308.5 L717,308.6 L719,308.9"/><path d="M559,314.1 L561,313.2 L563,312.5 L565,312.0 L567,311.8 L569,311.9 L571,312.2 L573,312.8 L575,313.7 L577,314.6 L579,315.7 L581,316.9 L583,318.0 L585,318.9 L587,319.8 L589,320.4 L591,320.7 L593,320.8 L595,320.6 L597,320.1 L599,319.4 L601,318.5 L603,317.4 L605,316.3 L607,315.2 L609,314.1 L611,313.2 L613,312.5 L615,312.0 L617,311.8 L619,311.9 L621,312.2 L623,312.8 L625,313.7 L627,314.6 L629,315.7 L631,316.9 L633,318.0 L635,318.9 L637,319.8 L639,320.4 L641,320.7 L643,320.8 L645,320.6 L647,320.1 L649,319.4 L651,318.5 L653,317.4 L655,316.3 L657,315.2 L659,314.1 L661,313.2 L663,312.5 L665,312.0 L667,311.8 L669,311.9 L671,312.2 L673,312.8 L675,313.7 L677,314.6 L679,315.7 L681,316.9 L683,318.0 L685,318.9 L687,319.8 L689,320.4 L691,320.7 L693,320.8 L695,320.6 L697,320.1 L699,319.4 L701,318.5 L703,317.4 L705,316.3 L707,315.2 L709,314.1 L711,313.2 L713,312.5 L715,312.0 L717,311.8 L719,311.9"/><path d="M559,318.5 L561,317.4 L563,316.5 L565,315.8 L567,315.3 L569,315.1 L571,315.2 L573,315.5 L575,316.1 L577,317.0 L579,317.9 L581,319.0 L583,320.2 L585,321.3 L587,322.2 L589,323.1 L591,323.7 L593,324.0 L595,324.1 L597,323.9 L599,323.4 L601,322.7 L603,321.8 L605,320.7 L607,319.6 L609,318.5 L611,317.4 L613,316.5 L615,315.8 L617,315.3 L619,315.1 L621,315.2 L623,315.5 L625,316.1 L627,317.0 L629,317.9 L631,319.0 L633,320.2 L635,321.3 L637,322.2 L639,323.1 L641,323.7 L643,324.0 L645,324.1 L647,323.9 L649,323.4 L651,322.7 L653,321.8 L655,320.7 L657,319.6 L659,318.5 L661,317.4 L663,316.5 L665,315.8 L667,315.3 L669,315.1 L671,315.2 L673,315.5 L675,316.1 L677,317.0 L679,317.9 L681,319.0 L683,320.2 L685,321.3 L687,322.2 L689,323.1 L691,323.7 L693,324.0 L695,324.1 L697,323.9 L699,323.4 L701,322.7 L703,321.8 L705,320.7 L707,319.6 L709,318.5 L711,317.4 L713,316.5 L715,315.8 L717,315.3 L719,315.1"/><path d="M559,322.9 L561,321.8 L563,320.7 L565,319.8 L567,319.1 L569,318.6 L571,318.4 L573,318.5 L575,318.8 L577,319.4 L579,320.3 L581,321.2 L583,322.3 L585,323.5 L587,324.6 L589,325.5 L591,326.4 L593,327.0 L595,327.3 L597,327.4 L599,327.2 L601,326.7 L603,326.0 L605,325.1 L607,324.0 L609,322.9 L611,321.8 L613,320.7 L615,319.8 L617,319.1 L619,318.6 L621,318.4 L623,318.5 L625,318.8 L627,319.4 L629,320.3 L631,321.2 L633,322.3 L635,323.5 L637,324.6 L639,325.5 L641,326.4 L643,327.0 L645,327.3 L647,327.4 L649,327.2 L651,326.7 L653,326.0 L655,325.1 L657,324.0 L659,322.9 L661,321.8 L663,320.7 L665,319.8 L667,319.1 L669,318.6 L671,318.4 L673,318.5 L675,318.8 L677,319.4 L679,320.3 L681,321.2 L683,322.3 L685,323.5 L687,324.6 L689,325.5 L691,326.4 L693,327.0 L695,327.3 L697,327.4 L699,327.2 L701,326.7 L703,326.0 L705,325.1 L707,324.0 L709,322.9 L711,321.8 L713,320.7 L715,319.8 L717,319.1 L719,318.6"/><path d="M559,327.3 L561,326.2 L563,325.1 L565,324.0 L567,323.1 L569,322.4 L571,321.9 L573,321.7 L575,321.8 L577,322.1 L579,322.7 L581,323.6 L583,324.5 L585,325.6 L587,326.8 L589,327.9 L591,328.8 L593,329.7 L595,330.3 L597,330.6 L599,330.7 L601,330.5 L603,330.0 L605,329.3 L607,328.4 L609,327.3 L611,326.2 L613,325.1 L615,324.0 L617,323.1 L619,322.4 L621,321.9 L623,321.7 L625,321.8 L627,322.1 L629,322.7 L631,323.6 L633,324.5 L635,325.6 L637,326.8 L639,327.9 L641,328.8 L643,329.7 L645,330.3 L647,330.6 L649,330.7 L651,330.5 L653,330.0 L655,329.3 L657,328.4 L659,327.3 L661,326.2 L663,325.1 L665,324.0 L667,323.1 L669,322.4 L671,321.9 L673,321.7 L675,321.8 L677,322.1 L679,322.7 L681,323.6 L683,324.5 L685,325.6 L687,326.8 L689,327.9 L691,328.8 L693,329.7 L695,330.3 L697,330.6 L699,330.7 L701,330.5 L703,330.0 L705,329.3 L707,328.4 L709,327.3 L711,326.2 L713,325.1 L715,324.0 L717,323.1 L719,322.4"/><path d="M559,331.7 L561,330.6 L563,329.5 L565,328.4 L567,327.3 L569,326.4 L571,325.7 L573,325.2 L575,325.0 L577,325.1 L579,325.4 L581,326.0 L583,326.9 L585,327.8 L587,328.9 L589,330.1 L591,331.2 L593,332.1 L595,333.0 L597,333.6 L599,333.9 L601,334.0 L603,333.8 L605,333.3 L607,332.6 L609,331.7 L611,330.6 L613,329.5 L615,328.4 L617,327.3 L619,326.4 L621,325.7 L623,325.2 L625,325.0 L627,325.1 L629,325.4 L631,326.0 L633,326.9 L635,327.8 L637,328.9 L639,330.1 L641,331.2 L643,332.1 L645,333.0 L647,333.6 L649,333.9 L651,334.0 L653,333.8 L655,333.3 L657,332.6 L659,331.7 L661,330.6 L663,329.5 L665,328.4 L667,327.3 L669,326.4 L671,325.7 L673,325.2 L675,325.0 L677,325.1 L679,325.4 L681,326.0 L683,326.9 L685,327.8 L687,328.9 L689,330.1 L691,331.2 L693,332.1 L695,333.0 L697,333.6 L699,333.9 L701,334.0 L703,333.8 L705,333.3 L707,332.6 L709,331.7 L711,330.6 L713,329.5 L715,328.4 L717,327.3 L719,326.4"/><path d="M559,335.9 L561,335.0 L563,333.9 L565,332.8 L567,331.7 L569,330.6 L571,329.7 L573,329.0 L575,328.5 L577,328.3 L579,328.4 L581,328.7 L583,329.3 L585,330.2 L587,331.1 L589,332.2 L591,333.4 L593,334.5 L595,335.4 L597,336.3 L599,336.9 L601,337.2 L603,337.3 L605,337.1 L607,336.6 L609,335.9 L611,335.0 L613,333.9 L615,332.8 L617,331.7 L619,330.6 L621,329.7 L623,329.0 L625,328.5 L627,328.3 L629,328.4 L631,328.7 L633,329.3 L635,330.2 L637,331.1 L639,332.2 L641,333.4 L643,334.5 L645,335.4 L647,336.3 L649,336.9 L651,337.2 L653,337.3 L655,337.1 L657,336.6 L659,335.9 L661,335.0 L663,333.9 L665,332.8 L667,331.7 L669,330.6 L671,329.7 L673,329.0 L675,328.5 L677,328.3 L679,328.4 L681,328.7 L683,329.3 L685,330.2 L687,331.1 L689,332.2 L691,333.4 L693,334.5 L695,335.4 L697,336.3 L699,336.9 L701,337.2 L703,337.3 L705,337.1 L707,336.6 L709,335.9 L711,335.0 L713,333.9 L715,332.8 L717,331.7 L719,330.6"/><path d="M559,455.2 L561,455.5 L563,455.4 L565,455.0 L567,454.3 L569,453.3 L571,452.2 L573,451.0 L575,449.8 L577,448.7 L579,447.7 L581,447.0 L583,446.6 L585,446.5 L587,446.8 L589,447.3 L591,448.2 L593,449.2 L595,450.4 L597,451.6 L599,452.8 L601,453.8 L603,454.7 L605,455.2 L607,455.5 L609,455.4 L611,455.0 L613,454.3 L615,453.3 L617,452.2 L619,451.0 L621,449.8 L623,448.7 L625,447.7 L627,447.0 L629,446.6 L631,446.5 L633,446.8 L635,447.3 L637,448.2 L639,449.2 L641,450.4 L643,451.6 L645,452.8 L647,453.8 L649,454.7 L651,455.2 L653,455.5 L655,455.4 L657,455.0 L659,454.3 L661,453.3 L663,452.2 L665,451.0 L667,449.8 L669,448.7 L671,447.7 L673,447.0 L675,446.6 L677,446.5 L679,446.8 L681,447.3 L683,448.2 L685,449.2 L687,450.4 L689,451.6 L691,452.8 L693,453.8 L695,454.7 L697,455.2 L699,455.5 L701,455.4 L703,455.0 L705,454.3 L707,453.3 L709,452.2 L711,451.0 L713,449.8 L715,448.7 L717,447.7 L719,447.0"/><path d="M559,458.8 L561,458.7 L563,458.3 L565,457.6 L567,456.6 L569,455.5 L571,454.3 L573,453.1 L575,452.0 L577,451.0 L579,450.3 L581,449.9 L583,449.8 L585,450.1 L587,450.6 L589,451.5 L591,452.5 L593,453.7 L595,454.9 L597,456.1 L599,457.1 L601,458.0 L603,458.5 L605,458.8 L607,458.7 L609,458.3 L611,457.6 L613,456.6 L615,455.5 L617,454.3 L619,453.1 L621,452.0 L623,451.0 L625,450.3 L627,449.9 L629,449.8 L631,450.1 L633,450.6 L635,451.5 L637,452.5 L639,453.7 L641,454.9 L643,456.1 L645,457.1 L647,458.0 L649,458.5 L651,458.8 L653,458.7 L655,458.3 L657,457.6 L659,456.6 L661,455.5 L663,454.3 L665,453.1 L667,452.0 L669,451.0 L671,450.3 L673,449.9 L675,449.8 L677,450.1 L679,450.6 L681,451.5 L683,452.5 L685,453.7 L687,454.9 L689,456.1 L691,457.1 L693,458.0 L695,458.5 L697,458.8 L699,458.7 L701,458.3 L703,457.6 L705,456.6 L707,455.5 L709,454.3 L711,453.1 L713,452.0 L715,451.0 L717,450.3 L719,449.9"/><path d="M559,462.0 L561,461.6 L563,460.9 L565,459.9 L567,458.8 L569,457.6 L571,456.4 L573,455.3 L575,454.3 L577,453.6 L579,453.2 L581,453.1 L583,453.4 L585,453.9 L587,454.8 L589,455.8 L591,457.0 L593,458.2 L595,459.4 L597,460.4 L599,461.3 L601,461.8 L603,462.1 L605,462.0 L607,461.6 L609,460.9 L611,459.9 L613,458.8 L615,457.6 L617,456.4 L619,455.3 L621,454.3 L623,453.6 L625,453.2 L627,453.1 L629,453.4 L631,453.9 L633,454.8 L635,455.8 L637,457.0 L639,458.2 L641,459.4 L643,460.4 L645,461.3 L647,461.8 L649,462.1 L651,462.0 L653,461.6 L655,460.9 L657,459.9 L659,458.8 L661,457.6 L663,456.4 L665,455.3 L667,454.3 L669,453.6 L671,453.2 L673,453.1 L675,453.4 L677,453.9 L679,454.8 L681,455.8 L683,457.0 L685,458.2 L687,459.4 L689,460.4 L691,461.3 L693,461.8 L695,462.1 L697,462.0 L699,461.6 L701,460.9 L703,459.9 L705,458.8 L707,457.6 L709,456.4 L711,455.3 L713,454.3 L715,453.6 L717,453.2 L719,453.1"/><path d="M559,464.9 L561,464.2 L563,463.2 L565,462.1 L567,460.9 L569,459.7 L571,458.6 L573,457.6 L575,456.9 L577,456.5 L579,456.4 L581,456.7 L583,457.2 L585,458.1 L587,459.1 L589,460.3 L591,461.5 L593,462.7 L595,463.7 L597,464.6 L599,465.1 L601,465.4 L603,465.3 L605,464.9 L607,464.2 L609,463.2 L611,462.1 L613,460.9 L615,459.7 L617,458.6 L619,457.6 L621,456.9 L623,456.5 L625,456.4 L627,456.7 L629,457.2 L631,458.1 L633,459.1 L635,460.3 L637,461.5 L639,462.7 L641,463.7 L643,464.6 L645,465.1 L647,465.4 L649,465.3 L651,464.9 L653,464.2 L655,463.2 L657,462.1 L659,460.9 L661,459.7 L663,458.6 L665,457.6 L667,456.9 L669,456.5 L671,456.4 L673,456.7 L675,457.2 L677,458.1 L679,459.1 L681,460.3 L683,461.5 L685,462.7 L687,463.7 L689,464.6 L691,465.1 L693,465.4 L695,465.3 L697,464.9 L699,464.2 L701,463.2 L703,462.1 L705,460.9 L707,459.7 L709,458.6 L711,457.6 L713,456.9 L715,456.5 L717,456.4 L719,456.7"/><path d="M559,467.5 L561,466.5 L563,465.4 L565,464.2 L567,463.0 L569,461.9 L571,460.9 L573,460.2 L575,459.8 L577,459.7 L579,460.0 L581,460.5 L583,461.4 L585,462.4 L587,463.6 L589,464.8 L591,466.0 L593,467.0 L595,467.9 L597,468.4 L599,468.7 L601,468.6 L603,468.2 L605,467.5 L607,466.5 L609,465.4 L611,464.2 L613,463.0 L615,461.9 L617,460.9 L619,460.2 L621,459.8 L623,459.7 L625,460.0 L627,460.5 L629,461.4 L631,462.4 L633,463.6 L635,464.8 L637,466.0 L639,467.0 L641,467.9 L643,468.4 L645,468.7 L647,468.6 L649,468.2 L651,467.5 L653,466.5 L655,465.4 L657,464.2 L659,463.0 L661,461.9 L663,460.9 L665,460.2 L667,459.8 L669,459.7 L671,460.0 L673,460.5 L675,461.4 L677,462.4 L679,463.6 L681,464.8 L683,466.0 L685,467.0 L687,467.9 L689,468.4 L691,468.7 L693,468.6 L695,468.2 L697,467.5 L699,466.5 L701,465.4 L703,464.2 L705,463.0 L707,461.9 L709,460.9 L711,460.2 L713,459.8 L715,459.7 L717,460.0 L719,460.5"/><path d="M559,469.8 L561,468.7 L563,467.5 L565,466.3 L567,465.2 L569,464.2 L571,463.5 L573,463.1 L575,463.0 L577,463.3 L579,463.8 L581,464.7 L583,465.7 L585,466.9 L587,468.1 L589,469.3 L591,470.3 L593,471.2 L595,471.7 L597,472.0 L599,471.9 L601,471.5 L603,470.8 L605,469.8 L607,468.7 L609,467.5 L611,466.3 L613,465.2 L615,464.2 L617,463.5 L619,463.1 L621,463.0 L623,463.3 L625,463.8 L627,464.7 L629,465.7 L631,466.9 L633,468.1 L635,469.3 L637,470.3 L639,471.2 L641,471.7 L643,472.0 L645,471.9 L647,471.5 L649,470.8 L651,469.8 L653,468.7 L655,467.5 L657,466.3 L659,465.2 L661,464.2 L663,463.5 L665,463.1 L667,463.0 L669,463.3 L671,463.8 L673,464.7 L675,465.7 L677,466.9 L679,468.1 L681,469.3 L683,470.3 L685,471.2 L687,471.7 L689,472.0 L691,471.9 L693,471.5 L695,470.8 L697,469.8 L699,468.7 L701,467.5 L703,466.3 L705,465.2 L707,464.2 L709,463.5 L711,463.1 L713,463.0 L715,463.3 L717,463.8 L719,464.7"/><path d="M559,472.0 L561,470.8 L563,469.6 L565,468.5 L567,467.5 L569,466.8 L571,466.4 L573,466.3 L575,466.6 L577,467.1 L579,468.0 L581,469.0 L583,470.2 L585,471.4 L587,472.6 L589,473.6 L591,474.5 L593,475.0 L595,475.3 L597,475.2 L599,474.8 L601,474.1 L603,473.1 L605,472.0 L607,470.8 L609,469.6 L611,468.5 L613,467.5 L615,466.8 L617,466.4 L619,466.3 L621,466.6 L623,467.1 L625,468.0 L627,469.0 L629,470.2 L631,471.4 L633,472.6 L635,473.6 L637,474.5 L639,475.0 L641,475.3 L643,475.2 L645,474.8 L647,474.1 L649,473.1 L651,472.0 L653,470.8 L655,469.6 L657,468.5 L659,467.5 L661,466.8 L663,466.4 L665,466.3 L667,466.6 L669,467.1 L671,468.0 L673,469.0 L675,470.2 L677,471.4 L679,472.6 L681,473.6 L683,474.5 L685,475.0 L687,475.3 L689,475.2 L691,474.8 L693,474.1 L695,473.1 L697,472.0 L699,470.8 L701,469.6 L703,468.5 L705,467.5 L707,466.8 L709,466.4 L711,466.3 L713,466.6 L715,467.1 L717,468.0 L719,469.0"/><path d="M559.9,312 L558.8,314 L558.0,316 L557.4,318 L557.0,320 L557.0,322 L557.4,324 L558.0,326 L558.8,328 L559.9,330 L561.0,332 L562.1,334 L563.2,336 L564.0,338 L564.6,340 L565.0,342 L565.0,344 L564.6,346 L564.0,348 L563.2,350 L562.1,352 L561.0,354 L559.9,356 L558.8,358 L558.0,360 L557.4,362 L557.0,364 L557.0,366 L557.4,368 L558.0,370 L558.8,372 L559.9,374 L561.0,376 L562.1,378 L563.2,380 L564.0,382 L564.6,384 L565.0,386 L565.0,388 L564.6,390 L564.0,392 L563.2,394 L562.1,396 L561.0,398 L559.9,400 L558.8,402 L558.0,404 L557.4,406 L557.0,408 L557.0,410 L557.4,412 L558.0,414 L558.8,416 L559.9,418 L561.0,420 L562.1,422 L563.2,424 L564.0,426 L564.6,428 L565.0,430 L565.0,432 L564.6,434 L564.0,436 L563.2,438 L562.1,440 L561.0,442 L559.9,444 L558.8,446 L558.0,448 L557.4,450 L557.0,452 L557.0,454 L557.4,456 L558.0,458 L558.8,460 L559.9,462 L561.0,464 L562.1,466 L563.2,468 L564.0,470 L564.6,472"/><path d="M564.3,312 L563.2,314 L562.1,316 L561.3,318 L560.7,320 L560.3,322 L560.3,324 L560.7,326 L561.3,328 L562.1,330 L563.2,332 L564.3,334 L565.4,336 L566.5,338 L567.3,340 L567.9,342 L568.3,344 L568.3,346 L567.9,348 L567.3,350 L566.5,352 L565.4,354 L564.3,356 L563.2,358 L562.1,360 L561.3,362 L560.7,364 L560.3,366 L560.3,368 L560.7,370 L561.3,372 L562.1,374 L563.2,376 L564.3,378 L565.4,380 L566.5,382 L567.3,384 L567.9,386 L568.3,388 L568.3,390 L567.9,392 L567.3,394 L566.5,396 L565.4,398 L564.3,400 L563.2,402 L562.1,404 L561.3,406 L560.7,408 L560.3,410 L560.3,412 L560.7,414 L561.3,416 L562.1,418 L563.2,420 L564.3,422 L565.4,424 L566.5,426 L567.3,428 L567.9,430 L568.3,432 L568.3,434 L567.9,436 L567.3,438 L566.5,440 L565.4,442 L564.3,444 L563.2,446 L562.1,448 L561.3,450 L560.7,452 L560.3,454 L560.3,456 L560.7,458 L561.3,460 L562.1,462 L563.2,464 L564.3,466 L565.4,468 L566.5,470 L567.3,472"/><path d="M568.7,312 L567.6,314 L566.5,316 L565.4,318 L564.6,320 L564.0,322 L563.6,324 L563.6,326 L564.0,328 L564.6,330 L565.4,332 L566.5,334 L567.6,336 L568.7,338 L569.8,340 L570.6,342 L571.2,344 L571.6,346 L571.6,348 L571.2,350 L570.6,352 L569.8,354 L568.7,356 L567.6,358 L566.5,360 L565.4,362 L564.6,364 L564.0,366 L563.6,368 L563.6,370 L564.0,372 L564.6,374 L565.4,376 L566.5,378 L567.6,380 L568.7,382 L569.8,384 L570.6,386 L571.2,388 L571.6,390 L571.6,392 L571.2,394 L570.6,396 L569.8,398 L568.7,400 L567.6,402 L566.5,404 L565.4,406 L564.6,408 L564.0,410 L563.6,412 L563.6,414 L564.0,416 L564.6,418 L565.4,420 L566.5,422 L567.6,424 L568.7,426 L569.8,428 L570.6,430 L571.2,432 L571.6,434 L571.6,436 L571.2,438 L570.6,440 L569.8,442 L568.7,444 L567.6,446 L566.5,448 L565.4,450 L564.6,452 L564.0,454 L563.6,456 L563.6,458 L564.0,460 L564.6,462 L565.4,464 L566.5,466 L567.6,468 L568.7,470 L569.8,472"/><path d="M573.1,312 L572.0,314 L570.9,316 L569.8,318 L568.7,320 L567.9,322 L567.3,324 L566.9,326 L566.9,328 L567.3,330 L567.9,332 L568.7,334 L569.8,336 L570.9,338 L572.0,340 L573.1,342 L573.9,344 L574.5,346 L574.9,348 L574.9,350 L574.5,352 L573.9,354 L573.1,356 L572.0,358 L570.9,360 L569.8,362 L568.7,364 L567.9,366 L567.3,368 L566.9,370 L566.9,372 L567.3,374 L567.9,376 L568.7,378 L569.8,380 L570.9,382 L572.0,384 L573.1,386 L573.9,388 L574.5,390 L574.9,392 L574.9,394 L574.5,396 L573.9,398 L573.1,400 L572.0,402 L570.9,404 L569.8,406 L568.7,408 L567.9,410 L567.3,412 L566.9,414 L566.9,416 L567.3,418 L567.9,420 L568.7,422 L569.8,424 L570.9,426 L572.0,428 L573.1,430 L573.9,432 L574.5,434 L574.9,436 L574.9,438 L574.5,440 L573.9,442 L573.1,444 L572.0,446 L570.9,448 L569.8,450 L568.7,452 L567.9,454 L567.3,456 L566.9,458 L566.9,460 L567.3,462 L567.9,464 L568.7,466 L569.8,468 L570.9,470 L572.0,472"/><path d="M577.2,312 L576.4,314 L575.3,316 L574.2,318 L573.1,320 L572.0,322 L571.2,324 L570.6,326 L570.2,328 L570.2,330 L570.6,332 L571.2,334 L572.0,336 L573.1,338 L574.2,340 L575.3,342 L576.4,344 L577.2,346 L577.8,348 L578.2,350 L578.2,352 L577.8,354 L577.2,356 L576.4,358 L575.3,360 L574.2,362 L573.1,364 L572.0,366 L571.2,368 L570.6,370 L570.2,372 L570.2,374 L570.6,376 L571.2,378 L572.0,380 L573.1,382 L574.2,384 L575.3,386 L576.4,388 L577.2,390 L577.8,392 L578.2,394 L578.2,396 L577.8,398 L577.2,400 L576.4,402 L575.3,404 L574.2,406 L573.1,408 L572.0,410 L571.2,412 L570.6,414 L570.2,416 L570.2,418 L570.6,420 L571.2,422 L572.0,424 L573.1,426 L574.2,428 L575.3,430 L576.4,432 L577.2,434 L577.8,436 L578.2,438 L578.2,440 L577.8,442 L577.2,444 L576.4,446 L575.3,448 L574.2,450 L573.1,452 L572.0,454 L571.2,456 L570.6,458 L570.2,460 L570.2,462 L570.6,464 L571.2,466 L572.0,468 L573.1,470 L574.2,472"/><path d="M581.1,312 L580.5,314 L579.7,316 L578.6,318 L577.5,320 L576.4,322 L575.3,324 L574.5,326 L573.9,328 L573.5,330 L573.5,332 L573.9,334 L574.5,336 L575.3,338 L576.4,340 L577.5,342 L578.6,344 L579.7,346 L580.5,348 L581.1,350 L581.5,352 L581.5,354 L581.1,356 L580.5,358 L579.7,360 L578.6,362 L577.5,364 L576.4,366 L575.3,368 L574.5,370 L573.9,372 L573.5,374 L573.5,376 L573.9,378 L574.5,380 L575.3,382 L576.4,384 L577.5,386 L578.6,388 L579.7,390 L580.5,392 L581.1,394 L581.5,396 L581.5,398 L581.1,400 L580.5,402 L579.7,404 L578.6,406 L577.5,408 L576.4,410 L575.3,412 L574.5,414 L573.9,416 L573.5,418 L573.5,420 L573.9,422 L574.5,424 L575.3,426 L576.4,428 L577.5,430 L578.6,432 L579.7,434 L580.5,436 L581.1,438 L581.5,440 L581.5,442 L581.1,444 L580.5,446 L579.7,448 L578.6,450 L577.5,452 L576.4,454 L575.3,456 L574.5,458 L573.9,460 L573.5,462 L573.5,464 L573.9,466 L574.5,468 L575.3,470 L576.4,472"/><path d="M584.8,312 L584.4,314 L583.8,316 L583.0,318 L581.9,320 L580.8,322 L579.7,324 L578.6,326 L577.8,328 L577.2,330 L576.8,332 L576.8,334 L577.2,336 L577.8,338 L578.6,340 L579.7,342 L580.8,344 L581.9,346 L583.0,348 L583.8,350 L584.4,352 L584.8,354 L584.8,356 L584.4,358 L583.8,360 L583.0,362 L581.9,364 L580.8,366 L579.7,368 L578.6,370 L577.8,372 L577.2,374 L576.8,376 L576.8,378 L577.2,380 L577.8,382 L578.6,384 L579.7,386 L580.8,388 L581.9,390 L583.0,392 L583.8,394 L584.4,396 L584.8,398 L584.8,400 L584.4,402 L583.8,404 L583.0,406 L581.9,408 L580.8,410 L579.7,412 L578.6,414 L577.8,416 L577.2,418 L576.8,420 L576.8,422 L577.2,424 L577.8,426 L578.6,428 L579.7,430 L580.8,432 L581.9,434 L583.0,436 L583.8,438 L584.4,440 L584.8,442 L584.8,444 L584.4,446 L583.8,448 L583.0,450 L581.9,452 L580.8,454 L579.7,456 L578.6,458 L577.8,460 L577.2,462 L576.8,464 L576.8,466 L577.2,468 L577.8,470 L578.6,472"/><path d="M715.9,312 L715.5,314 L715.0,316 L714.3,318 L713.5,320 L712.7,322 L712.0,324 L711.5,326 L711.1,328 L711.0,330 L711.1,332 L711.5,334 L712.0,336 L712.7,338 L713.5,340 L714.3,342 L715.0,344 L715.5,346 L715.9,348 L716.0,350 L715.9,352 L715.5,354 L715.0,356 L714.3,358 L713.5,360 L712.7,362 L712.0,364 L711.5,366 L711.1,368 L711.0,370 L711.1,372 L711.5,374 L712.0,376 L712.7,378 L713.5,380 L714.3,382 L715.0,384 L715.5,386 L715.9,388 L716.0,390 L715.9,392 L715.5,394 L715.0,396 L714.3,398 L713.5,400 L712.7,402 L712.0,404 L711.5,406 L711.1,408 L711.0,410 L711.1,412 L711.5,414 L712.0,416 L712.7,418 L713.5,420 L714.3,422 L715.0,424 L715.5,426 L715.9,428 L716.0,430 L715.9,432 L715.5,434 L715.0,436 L714.3,438 L713.5,440 L712.7,442 L712.0,444 L711.5,446 L711.1,448 L711.0,450 L711.1,452 L711.5,454 L712.0,456 L712.7,458 L713.5,460 L714.3,462 L715.0,464 L715.5,466 L715.9,468 L716.0,470 L715.9,472"/><path d="M719.0,312 L718.8,314 L718.4,316 L717.8,318 L717.1,320 L716.3,322 L715.5,324 L714.9,326 L714.4,328 L714.1,330 L714.0,332 L714.2,334 L714.6,336 L715.2,338 L715.9,340 L716.7,342 L717.5,344 L718.1,346 L718.6,348 L718.9,350 L719.0,352 L718.8,354 L718.4,356 L717.8,358 L717.1,360 L716.3,362 L715.5,364 L714.9,366 L714.4,368 L714.1,370 L714.0,372 L714.2,374 L714.6,376 L715.2,378 L715.9,380 L716.7,382 L717.5,384 L718.1,386 L718.6,388 L718.9,390 L719.0,392 L718.8,394 L718.4,396 L717.8,398 L717.1,400 L716.3,402 L715.5,404 L714.9,406 L714.4,408 L714.1,410 L714.0,412 L714.2,414 L714.6,416 L715.2,418 L715.9,420 L716.7,422 L717.5,424 L718.1,426 L718.6,428 L718.9,430 L719.0,432 L718.8,434 L718.4,436 L717.8,438 L717.1,440 L716.3,442 L715.5,444 L714.9,446 L714.4,448 L714.1,450 L714.0,452 L714.2,454 L714.6,456 L715.2,458 L715.9,460 L716.7,462 L717.5,464 L718.1,466 L718.6,468 L718.9,470 L719.0,472"/><path d="M722.0,312 L722.0,314 L721.7,316 L721.3,318 L720.6,320 L719.9,322 L719.1,324 L718.4,326 L717.7,328 L717.3,330 L717.0,332 L717.0,334 L717.3,336 L717.7,338 L718.4,340 L719.1,342 L719.9,344 L720.6,346 L721.3,348 L721.7,350 L722.0,352 L722.0,354 L721.7,356 L721.3,358 L720.6,360 L719.9,362 L719.1,364 L718.4,366 L717.7,368 L717.3,370 L717.0,372 L717.0,374 L717.3,376 L717.7,378 L718.4,380 L719.1,382 L719.9,384 L720.6,386 L721.3,388 L721.7,390 L722.0,392 L722.0,394 L721.7,396 L721.3,398 L720.6,400 L719.9,402 L719.1,404 L718.4,406 L717.7,408 L717.3,410 L717.0,412 L717.0,414 L717.3,416 L717.7,418 L718.4,420 L719.1,422 L719.9,424 L720.6,426 L721.3,428 L721.7,430 L722.0,432 L722.0,434 L721.7,436 L721.3,438 L720.6,440 L719.9,442 L719.1,444 L718.4,446 L717.7,448 L717.3,450 L717.0,452 L717.0,454 L717.3,456 L717.7,458 L718.4,460 L719.1,462 L719.9,464 L720.6,466 L721.3,468 L721.7,470 L722.0,472"/></g></g>
<rect x="582" y="335" width="114" height="114" fill="#fff"/>
<g stroke="#d4f2fc" stroke-width="1.5" fill="none">
<path d="M703,344.0 L711.5,336.0"/><path d="M703,348.4 L711.5,340.4"/><path d="M703,352.8 L711.5,344.8"/><path d="M703,357.2 L711.5,349.2"/><path d="M703,361.6 L711.5,353.6"/><path d="M703,366.0 L711.5,358.0"/><path d="M703,370.4 L711.5,362.4"/><path d="M703,374.8 L711.5,366.8"/><path d="M703,379.2 L711.5,371.2"/><path d="M703,383.6 L711.5,375.6"/><path d="M703,388.0 L711.5,380.0"/><path d="M703,392.4 L711.5,384.4"/><path d="M703,396.8 L711.5,388.8"/><path d="M703,401.2 L711.5,393.2"/><path d="M703,405.6 L711.5,397.6"/><path d="M703,410.0 L711.5,402.0"/>
</g>
</svg>
<svg class="abs" style="left:587px;top:340px" width="103" height="103" viewBox="0 0 37 37" shape-rendering="crispEdges"><path d="M0 0h7v1h-7zM8 0h5v1h-5zM14 0h2v1h-2zM19 0h1v1h-1zM21 0h1v1h-1zM23 0h4v1h-4zM28 0h1v1h-1zM30 0h7v1h-7zM0 1h1v1h-1zM6 1h1v1h-1zM9 1h1v1h-1zM12 1h1v1h-1zM14 1h2v1h-2zM17 1h3v1h-3zM24 1h1v1h-1zM28 1h1v1h-1zM30 1h1v1h-1zM36 1h1v1h-1zM0 2h1v1h-1zM2 2h3v1h-3zM6 2h1v1h-1zM8 2h1v1h-1zM10 2h3v1h-3zM14 2h2v1h-2zM20 2h3v1h-3zM25 2h4v1h-4zM30 2h1v1h-1zM32 2h3v1h-3zM36 2h1v1h-1zM0 3h1v1h-1zM2 3h3v1h-3zM6 3h1v1h-1zM9 3h3v1h-3zM13 3h11v1h-11zM26 3h3v1h-3zM30 3h1v1h-1zM32 3h3v1h-3zM36 3h1v1h-1zM0 4h1v1h-1zM2 4h3v1h-3zM6 4h1v1h-1zM9 4h2v1h-2zM14 4h3v1h-3zM18 4h1v1h-1zM20 4h2v1h-2zM28 4h1v1h-1zM30 4h1v1h-1zM32 4h3v1h-3zM36 4h1v1h-1zM0 5h1v1h-1zM6 5h1v1h-1zM8 5h1v1h-1zM12 5h1v1h-1zM15 5h1v1h-1zM20 5h2v1h-2zM23 5h1v1h-1zM26 5h2v1h-2zM30 5h1v1h-1zM36 5h1v1h-1zM0 6h7v1h-7zM8 6h1v1h-1zM10 6h1v1h-1zM12 6h1v1h-1zM14 6h1v1h-1zM16 6h1v1h-1zM18 6h1v1h-1zM20 6h1v1h-1zM22 6h1v1h-1zM24 6h1v1h-1zM26 6h1v1h-1zM28 6h1v1h-1zM30 6h7v1h-7zM9 7h2v1h-2zM12 7h1v1h-1zM16 7h1v1h-1zM18 7h2v1h-2zM21 7h3v1h-3zM28 7h1v1h-1zM0 8h1v1h-1zM4 8h1v1h-1zM6 8h2v1h-2zM10 8h1v1h-1zM12 8h2v1h-2zM16 8h6v1h-6zM23 8h1v1h-1zM25 8h3v1h-3zM29 8h2v1h-2zM34 8h3v1h-3zM1 9h3v1h-3zM7 9h1v1h-1zM11 9h2v1h-2zM14 9h2v1h-2zM19 9h1v1h-1zM21 9h1v1h-1zM23 9h2v1h-2zM27 9h10v1h-10zM1 10h7v1h-7zM10 10h2v1h-2zM13 10h1v1h-1zM15 10h2v1h-2zM18 10h2v1h-2zM22 10h1v1h-1zM26 10h5v1h-5zM32 10h3v1h-3zM1 11h5v1h-5zM7 11h1v1h-1zM11 11h1v1h-1zM13 11h16v1h-16zM30 11h1v1h-1zM35 11h2v1h-2zM1 12h1v1h-1zM4 12h1v1h-1zM6 12h1v1h-1zM10 12h3v1h-3zM20 12h5v1h-5zM30 12h2v1h-2zM34 12h2v1h-2zM0 13h1v1h-1zM2 13h3v1h-3zM9 13h3v1h-3zM16 13h3v1h-3zM20 13h1v1h-1zM22 13h3v1h-3zM28 13h5v1h-5zM34 13h1v1h-1zM0 14h2v1h-2zM4 14h3v1h-3zM8 14h1v1h-1zM10 14h2v1h-2zM13 14h1v1h-1zM15 14h1v1h-1zM18 14h1v1h-1zM20 14h9v1h-9zM30 14h1v1h-1zM33 14h1v1h-1zM0 15h3v1h-3zM5 15h1v1h-1zM7 15h3v1h-3zM11 15h1v1h-1zM13 15h5v1h-5zM26 15h1v1h-1zM28 15h1v1h-1zM31 15h2v1h-2zM34 15h3v1h-3zM0 16h1v1h-1zM3 16h1v1h-1zM5 16h6v1h-6zM12 16h2v1h-2zM16 16h8v1h-8zM27 16h7v1h-7zM35 16h2v1h-2zM2 17h4v1h-4zM10 17h2v1h-2zM14 17h1v1h-1zM16 17h2v1h-2zM22 17h4v1h-4zM31 17h1v1h-1zM33 17h1v1h-1zM35 17h1v1h-1zM1 18h3v1h-3zM6 18h3v1h-3zM10 18h2v1h-2zM13 18h3v1h-3zM19 18h3v1h-3zM24 18h3v1h-3zM28 18h2v1h-2zM32 18h4v1h-4zM0 19h1v1h-1zM3 19h2v1h-2zM8 19h2v1h-2zM11 19h1v1h-1zM13 19h4v1h-4zM19 19h3v1h-3zM23 19h4v1h-4zM32 19h2v1h-2zM36 19h1v1h-1zM1 20h7v1h-7zM9 20h1v1h-1zM11 20h2v1h-2zM15 20h4v1h-4zM20 20h2v1h-2zM23 20h2v1h-2zM27 20h3v1h-3zM31 20h1v1h-1zM34 20h2v1h-2zM1 21h1v1h-1zM3 21h3v1h-3zM10 21h3v1h-3zM15 21h4v1h-4zM20 21h1v1h-1zM26 21h3v1h-3zM30 21h2v1h-2zM33 21h3v1h-3zM0 22h1v1h-1zM4 22h4v1h-4zM9 22h3v1h-3zM17 22h1v1h-1zM19 22h1v1h-1zM21 22h1v1h-1zM23 22h4v1h-4zM29 22h2v1h-2zM32 22h2v1h-2zM0 23h2v1h-2zM5 23h1v1h-1zM7 23h2v1h-2zM12 23h1v1h-1zM14 23h2v1h-2zM18 23h1v1h-1zM21 23h5v1h-5zM28 23h3v1h-3zM32 23h3v1h-3zM0 24h3v1h-3zM5 24h2v1h-2zM8 24h3v1h-3zM12 24h1v1h-1zM14 24h2v1h-2zM18 24h2v1h-2zM21 24h2v1h-2zM24 24h1v1h-1zM26 24h1v1h-1zM28 24h3v1h-3zM34 24h1v1h-1zM36 24h1v1h-1zM0 25h4v1h-4zM5 25h1v1h-1zM9 25h2v1h-2zM13 25h2v1h-2zM16 25h1v1h-1zM20 25h1v1h-1zM22 25h2v1h-2zM26 25h7v1h-7zM35 25h1v1h-1zM1 26h1v1h-1zM3 26h1v1h-1zM6 26h3v1h-3zM10 26h1v1h-1zM12 26h3v1h-3zM16 26h2v1h-2zM20 26h10v1h-10zM31 26h1v1h-1zM34 26h3v1h-3zM0 27h1v1h-1zM2 27h1v1h-1zM7 27h1v1h-1zM9 27h1v1h-1zM12 27h1v1h-1zM15 27h2v1h-2zM18 27h1v1h-1zM20 27h1v1h-1zM22 27h2v1h-2zM25 27h7v1h-7zM35 27h1v1h-1zM0 28h2v1h-2zM3 28h1v1h-1zM6 28h1v1h-1zM8 28h1v1h-1zM11 28h1v1h-1zM13 28h1v1h-1zM16 28h1v1h-1zM18 28h2v1h-2zM21 28h1v1h-1zM23 28h1v1h-1zM28 28h7v1h-7zM36 28h1v1h-1zM10 29h1v1h-1zM12 29h2v1h-2zM15 29h3v1h-3zM21 29h3v1h-3zM26 29h1v1h-1zM28 29h1v1h-1zM32 29h5v1h-5zM0 30h7v1h-7zM8 30h1v1h-1zM11 30h4v1h-4zM18 30h1v1h-1zM21 30h1v1h-1zM23 30h6v1h-6zM30 30h1v1h-1zM32 30h2v1h-2zM35 30h1v1h-1zM0 31h1v1h-1zM6 31h1v1h-1zM8 31h1v1h-1zM12 31h1v1h-1zM14 31h2v1h-2zM21 31h1v1h-1zM25 31h1v1h-1zM28 31h1v1h-1zM32 31h4v1h-4zM0 32h1v1h-1zM2 32h3v1h-3zM6 32h1v1h-1zM8 32h1v1h-1zM10 32h1v1h-1zM14 32h1v1h-1zM18 32h4v1h-4zM27 32h10v1h-10zM0 33h1v1h-1zM2 33h3v1h-3zM6 33h1v1h-1zM8 33h2v1h-2zM11 33h1v1h-1zM13 33h2v1h-2zM16 33h1v1h-1zM18 33h3v1h-3zM23 33h3v1h-3zM27 33h3v1h-3zM31 33h1v1h-1zM33 33h2v1h-2zM36 33h1v1h-1zM0 34h1v1h-1zM2 34h3v1h-3zM6 34h1v1h-1zM8 34h2v1h-2zM11 34h1v1h-1zM13 34h3v1h-3zM17 34h2v1h-2zM20 34h3v1h-3zM26 34h3v1h-3zM32 34h2v1h-2zM36 34h1v1h-1zM0 35h1v1h-1zM6 35h1v1h-1zM8 35h7v1h-7zM17 35h1v1h-1zM19 35h2v1h-2zM24 35h2v1h-2zM27 35h5v1h-5zM34 35h1v1h-1zM36 35h1v1h-1zM0 36h7v1h-7zM8 36h2v1h-2zM17 36h2v1h-2zM20 36h2v1h-2zM25 36h3v1h-3zM29 36h1v1h-1zM32 36h1v1h-1zM35 36h2v1h-2z" fill="#000"/></svg>
<div class="t" style="left:631.5px;top:456px;font-size:10px;color:#fff;font-weight:bold;letter-spacing:1.9px">SCAN FOR</div>
<div class="vt" style="left:703.3px;top:464px;font-size:10px;letter-spacing:1.9px">DETAILS</div>

<!-- evaluation card -->
<div class="card" style="left:47px;top:486px;width:672px;height:120px"></div>
<div class="bar" style="left:47px;top:486px;width:22px;height:120px"></div>
<div class="vt" style="left:49.7px;top:604px;letter-spacing:0px">EVALUATION</div>

<div class="t" style="left:87.30px;top:3.90px;font-size:10px;letter-spacing:0.221px"><span style="font-weight:bold;color:#121850">MODEL:</span><span style="color:#3b4060">&nbsp;MX-30&nbsp;-&nbsp;35,5&nbsp;kWh</span></div>
<div class="t" style="left:295.20px;top:4.10px;font-size:10px;letter-spacing:0.009px"><span style="font-weight:bold;color:#121850">VIN:</span><span style="color:#3b4060">&nbsp;JMZDR1WBJ00112850</span></div>
<div class="t" style="left:295.20px;top:21.00px;font-size:10px;letter-spacing:-0.122px"><span style="font-weight:bold;color:#121850">DATE AND TIME:</span></div>
<div class="t" style="left:295.20px;top:34.70px;font-size:10px;letter-spacing:0.170px"><span style="color:#3b4060">20/02/2026, 13:17:29</span></div>
<div class="t" style="left:503.40px;top:-0.10px;font-size:10px;letter-spacing:0.488px"><span style="color:#3b4060">Limited</span></div>
<div class="t" style="left:87.40px;top:88.30px;font-size:14px;letter-spacing:-0.078px"><span style="font-weight:bold;color:#121850">STATE OF HEALTH (SOH)</span></div>
<div class="t" style="left:87.10px;top:208.85px;font-size:11px;letter-spacing:-0.215px;transform:scaleX(0.910);transform-origin:0 0"><span style="font-weight:bold;color:#121850">ENERGY</span></div>
<div class="t" style="left:235.10px;top:210.00px;font-size:10px;letter-spacing:0.105px"><span style="color:#5cb4cf">30kWh</span><span style="color:#333640">&nbsp;|&nbsp;32kWh</span></div>
<div class="t" style="left:87.10px;top:272.05px;font-size:11px;letter-spacing:-0.154px;transform:scaleX(0.930);transform-origin:0 0"><span style="font-weight:bold;color:#121850">WLTP RANGE</span></div>
<div class="t" style="left:243.00px;top:273.50px;font-size:10px;letter-spacing:0.128px"><span style="color:#5cb4cf">117mi</span><span style="color:#333640">&nbsp;|&nbsp;124mi</span></div>
<div class="t" style="left:380.50px;top:95.50px;font-size:10px;letter-spacing:-0.077px"><span style="font-weight:bold;color:#121850">BENCHMARKING</span></div>
<div class="t" style="left:380.50px;top:109.20px;font-size:10px;letter-spacing:0.283px"><span style="color:#3b4060">How does your vehicle</span></div>
<div class="t" style="left:380.50px;top:123.50px;font-size:10px;letter-spacing:0.360px"><span style="color:#3b4060">compare to comparable</span></div>
<div class="t" style="left:380.50px;top:138.00px;font-size:10px;letter-spacing:-0.066px"><span style="color:#3b4060">vehicles?</span></div>
<div class="t" style="left:380.30px;top:266.75px;font-size:9px;letter-spacing:-0.070px"><span style="color:#333640">below average</span></div>
<div class="t" style="left:524.30px;top:266.95px;font-size:9px;letter-spacing:-0.253px"><span style="color:#333640">average</span></div>
<div class="t" style="left:641.00px;top:266.95px;font-size:9px;letter-spacing:-0.087px"><span style="color:#333640">above average</span></div>
<div class="t" style="left:87.00px;top:336.15px;font-size:11px;letter-spacing:-0.113px"><span style="color:#3b4060">Battery Management System (BMS)</span></div>
<div class="t" style="left:87.00px;top:360.15px;font-size:11px;letter-spacing:-0.230px"><span style="color:#3b4060">Battery Sensor</span></div>
<div class="t" style="left:87.00px;top:383.45px;font-size:11px;letter-spacing:-0.161px"><span style="color:#3b4060">Battery Measurements</span></div>
<div class="t" style="left:87.00px;top:409.45px;font-size:11px;letter-spacing:-0.160px"><span style="color:#3b4060">Battery Cell Voltages</span></div>
<div class="t" style="left:87.00px;top:433.65px;font-size:11px;letter-spacing:-0.146px"><span style="color:#3b4060">Vehicle Communication</span></div>
<div class="t" style="left:87.20px;top:510.10px;font-size:14px;letter-spacing:-0.292px"><span style="font-weight:bold;color:#121850">EXCELLENT HEALTH - NO ABNORMALITIES DETECTED</span></div>
<div class="t" style="left:87.20px;top:543.25px;font-size:11px;letter-spacing:-0.144px"><span style="color:#3b4060">Based on the detailed battery diagnostics performed with the AVILOO FLASH Test, we hereby</span></div>
<div class="t" style="left:87.20px;top:557.45px;font-size:11px;letter-spacing:0.002px"><span style="color:#3b4060">certify that the drive battery of this vehicle is in excellent condition.</span></div>
<svg class="abs" style="left:0;top:0" width="759" height="569">
<g fill="none" stroke="#2a8dc0" stroke-width="1.8" stroke-linecap="round" stroke-linejoin="round">
<path d="M562.8,569 C563.5,561 564,553 564.8,548.5 C566,553 567,560 567.6,564 C568.5,559 569.5,556 571,556 C572,558 572,562 571.6,565"/>
<path d="M574.5,557 C572.5,557 571.8,563.5 574,564 C576.5,564.5 577.5,558 575,557"/>
<path d="M578,565 C578.5,561 579,557.5 579.5,556.5 C580.5,557 582,557 583,557.5"/>
<path d="M587.5,558 C584.5,557 583,564 585.5,564.5 C587.5,565 588.5,561 589,557.5 C589,561 589.5,564 591,564.5"/>
<path d="M591,557.5 C591,561 591.5,564.5 593.5,564.5 C595.5,564.5 596.5,561 597,557 C597,561 597.5,564 599,564.5"/>
<path d="M604,558.5 C601.5,556.5 598.5,559 601,560.5 C603.5,562 604,564.5 599.5,565"/>
<path d="M600,565 C606,564 613,564.5 621,563.8"/>
<path d="M621.2,549.6 C626,546.5 632,545 637,545.5 C642,546 644,549 642,552 C640,554.5 636,555.5 633,555.7 C639,556 642,558 640,561 C637,563.5 631,564 622,563.8"/>
<path d="M632.9,549.6 C632.5,553 631.8,558 631.2,561.3"/>
<path d="M645,558 C648,558 650.5,555.5 648.5,554 C645.5,553 643.5,560 647,562 C649,563 651,561.5 652.5,560"/>
<path d="M653.5,562 C654,559 654.5,556.5 655,555.5 C656,556 657.5,556 659,556.5"/>
<path d="M664,557 C661,555.5 658.5,561 661.5,561.5 C663.5,561.5 664.5,558.5 665,556 C665.5,560 665,566 660,569"/>
<path d="M668,560 C671,559.5 672.5,557 670.5,556 C667.5,555.5 666.5,561.5 669.5,562.5 C671,563 672.5,562 673.5,561"/>
<path d="M673.5,561 C674.5,558 675,556.5 676,556 C681,554 686,551 692,548.5"/>
</g></svg>

</body></html>
